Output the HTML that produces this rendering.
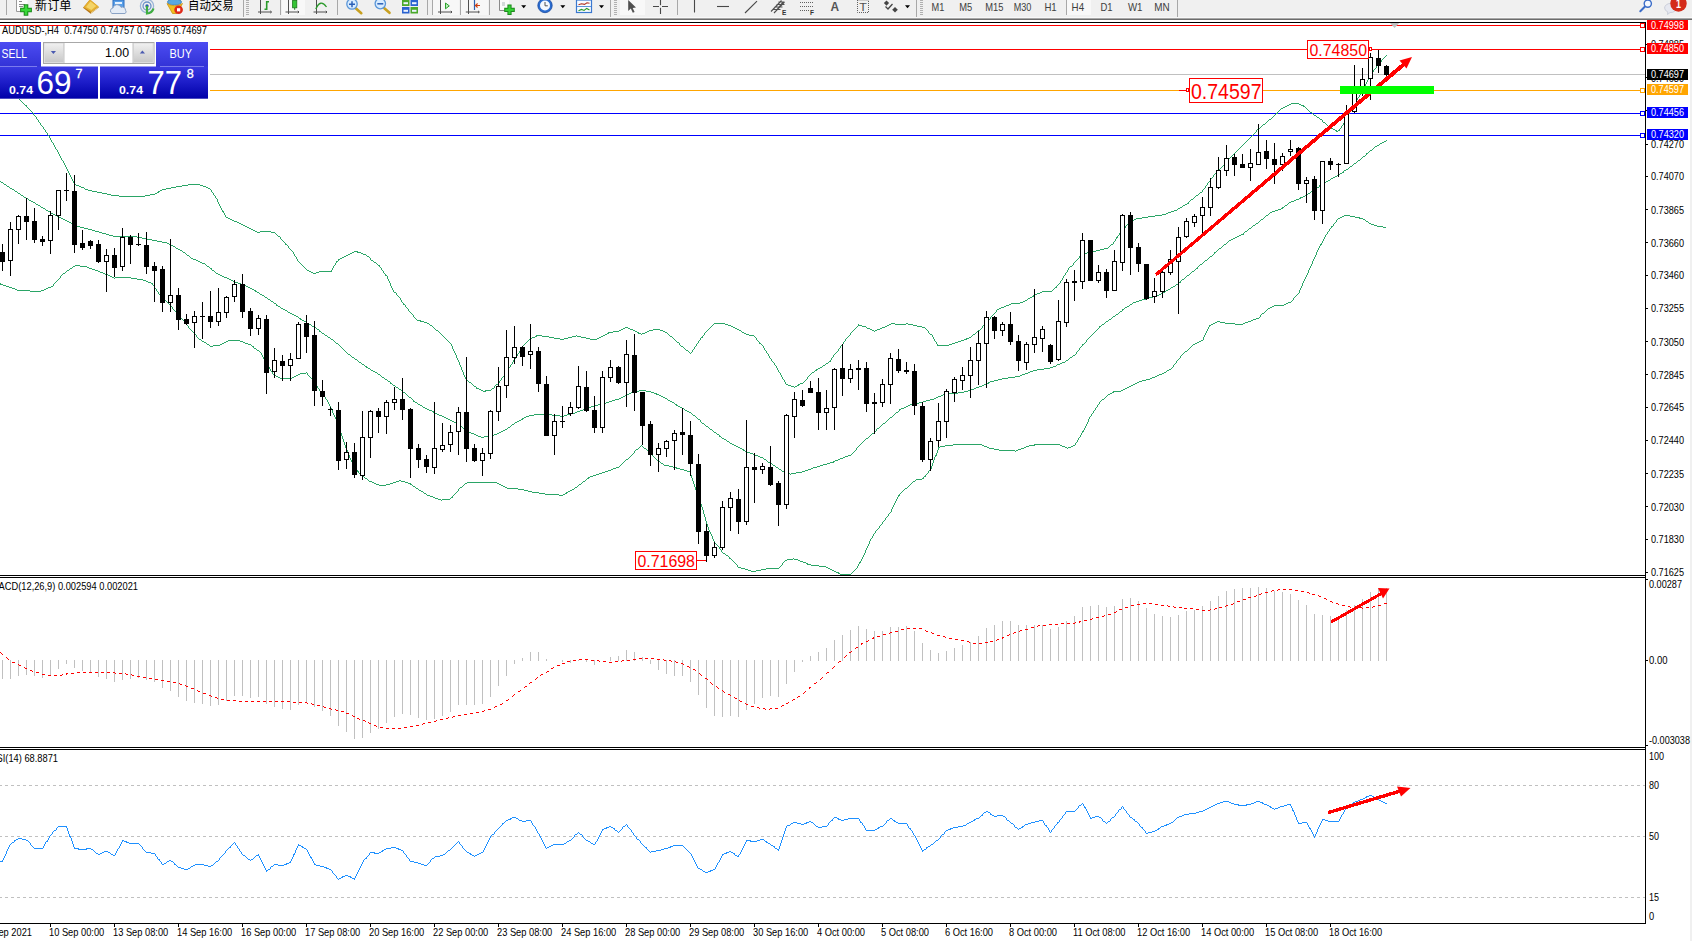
<!DOCTYPE html>
<html><head><meta charset="utf-8"><title>AUDUSD H4</title>
<style>html,body{margin:0;padding:0;background:#fff}body{width:1692px;height:941px;overflow:hidden}svg{display:block}</style>
</head><body>
<svg width="1692" height="941" viewBox="0 0 1692 941" style="font-family:'Liberation Sans','Noto Sans CJK SC',sans-serif">
<rect width="1692" height="941" fill="#fff"/>
<g shape-rendering="crispEdges">
<rect x="0" y="25" width="1645" height="1" fill="#ff0000"/>
<rect x="0" y="49" width="1645" height="1" fill="#ff0000"/>
<rect x="208" y="74" width="1437" height="1" fill="#c0c0c0"/>
<rect x="208" y="90" width="1437" height="1" fill="#ffa500"/>
<rect x="0" y="113" width="1645" height="1" fill="#0000ff"/>
<rect x="0" y="135" width="1645" height="1" fill="#0000ff"/>
</g>
<path d="M15 95.5h1M16 96.5h1M17 97.5h1M18 98.5h1M19 99.5h1M20 100.5h1M21 101.5h1M22 102.5h1M23 103.5h1M24 104.5h1M25 105.5h1M26.5 105v2M27 107.5h1M28 108.5h1M29 109.5h1M30 110.5h1M31 111.5h1M32 112.5h1M33.5 113v2M34 115.5h1M35 116.5h1M36.5 117v2M37 119.5h1M38.5 120v2M39 122.5h1M40.5 123v2M41 125.5h1M42 126.5h1M43.5 127v2M44 129.5h1M45.5 130v2M46 132.5h1M47.5 133v2M48 135.5h1M49.5 136v2M50.5 138v2M51.5 140v2M52 142.5h1M53.5 143v2M54.5 145v2M55.5 147v2M56 149.5h1M57.5 150v2M58.5 152v2M59.5 154v2M60.5 156v2M61.5 158v2M62 160.5h1M63.5 161v2M64.5 163v2M65.5 165v2M66.5 167v2M67.5 169v2M68.5 171v2M69.5 173v2M70.5 175v2M71.5 177v2M72.5 179v2M73.5 181v2M74.5 183v2M75 184.5h1M76 185.5h3M79 186.5h2M81 187.5h3M84 188.5h1M85 189.5h3M88 190.5h4M92 191.5h5M97 192.5h5M102 193.5h5M107 194.5h4M111 195.5h8M119 196.5h26M145 195.5h5M150 194.5h5M155 193.5h2M157 192.5h1M158.5 191v2M159 191.5h1M160 190.5h2M162 189.5h4M166 188.5h5M171 187.5h5M176 186.5h6M182 185.5h6M188 184.5h12M200 185.5h3M203 186.5h3M206 187.5h2M208 188.5h2M210 189.5h1M211.5 190v2M212 192.5h1M213.5 193v2M214 195.5h1M215.5 196v2M216 198.5h1M217.5 199v3M218.5 202v2M219.5 204v2M220.5 206v2M221.5 208v2M222.5 210v2M223.5 211v2M224.5 213v2M225.5 215v2M226 217.5h2M228 218.5h2M230 219.5h2M232 220.5h2M234 221.5h3M237 222.5h2M239 223.5h2M241 224.5h2M243 225.5h2M245 226.5h2M247 227.5h2M249 228.5h2M251 229.5h2M253 230.5h2M255 231.5h2M257 232.5h3M260 231.5h11M271 232.5h4M275 233.5h1M276 234.5h1M277 235.5h1M278 236.5h2M280.5 237v2M281 239.5h1M282 240.5h1M283 241.5h1M284 242.5h1M285.5 243v2M286 244.5h1M287 245.5h1M288.5 246v2M289 248.5h1M290 249.5h1M291 250.5h1M292 251.5h1M293.5 252v2M294.5 254v2M295 256.5h1M296.5 257v2M297.5 259v2M298 261.5h1M299 262.5h1M300 263.5h1M301 264.5h1M302 265.5h1M303 266.5h1M304 267.5h1M305 268.5h1M306 269.5h1M307 270.5h2M309 271.5h2M311 272.5h2M313 273.5h3M316 272.5h3M319 271.5h12M331.5 270v2M332.5 268v2M333.5 266v2M334 265.5h1M335.5 263v2M336.5 261v2M337 261.5h1M338.5 259v2M339 259.5h1M340 258.5h2M342 257.5h2M344 256.5h2M346 255.5h2M348 254.5h2M350 253.5h2M352 252.5h2M354 251.5h3M357.5 251v2M358 252.5h3M361 253.5h2M363 254.5h3M366 255.5h1M367 256.5h2M369 257.5h1M370.5 258v2M371 260.5h2M373 261.5h1M374 262.5h2M376 263.5h1M377 264.5h1M378 265.5h1M379.5 265v2M380 267.5h1M381.5 268v2M382 270.5h1M383.5 271v2M384 273.5h1M385.5 274v2M386 275.5h1M387.5 276v3M388.5 279v2M389.5 281v2M390.5 283v3M391.5 286v2M392.5 288v2M393.5 290v2M394 292.5h2M396.5 293v2M397 295.5h1M398 296.5h1M399 297.5h1M400.5 298v2M401.5 300v2M402 302.5h1M403.5 303v2M404 304.5h1M405.5 305v2M406 307.5h1M407 308.5h1M408.5 309v2M409 311.5h1M410 312.5h1M411 313.5h1M412 314.5h1M413.5 315v2M414 317.5h1M415 318.5h1M416 319.5h1M417 320.5h3M420.5 320v2M421 321.5h3M424 322.5h3M427 323.5h2M429 324.5h1M430 325.5h2M432 326.5h1M433 327.5h1M434 328.5h1M435 329.5h1M436 330.5h2M438 331.5h1M439 332.5h1M440 333.5h1M441 334.5h1M442 335.5h1M443 336.5h1M444 337.5h1M445 338.5h1M446 339.5h1M447 340.5h1M448 341.5h1M449 342.5h1M450 343.5h1M451.5 344v2M452.5 346v3M453.5 349v2M454.5 351v2M455.5 353v2M456.5 355v3M457.5 358v2M458.5 360v2M459.5 362v3M460.5 365v2M461.5 367v3M462.5 370v2M463.5 372v3M464.5 375v2M465.5 377v2M466 379.5h1M467 380.5h1M468 381.5h1M469 382.5h2M471 383.5h1M472 384.5h1M473 385.5h1M474 386.5h2M476.5 387v2M477 388.5h2M479 389.5h2M481 390.5h2M483 391.5h2M485.5 390v2M486 390.5h5M491 389.5h1M492 388.5h2M494.5 386v2M495 385.5h1M496 384.5h2M498 383.5h1M499.5 381v2M500 380.5h1M501.5 378v2M502 377.5h1M503 376.5h1M504.5 374v2M505 373.5h1M506.5 371v2M507 370.5h1M508.5 368v2M509 367.5h1M510.5 365v2M511 364.5h1M512.5 362v2M513.5 360v2M514 359.5h1M515.5 357v2M516.5 355v2M517.5 354v2M518 353.5h1M519.5 351v2M520.5 349v2M521 348.5h1M522.5 346v2M523 345.5h1M524 344.5h1M525 343.5h1M526 342.5h1M527 341.5h1M528 340.5h1M529 339.5h1M530 338.5h2M532 337.5h3M535 336.5h1M536.5 335v2M537 335.5h5M542 336.5h7M549 337.5h5M554 338.5h6M560 339.5h4M564 338.5h4M568 337.5h4M572 336.5h4M576 335.5h1M577 336.5h4M581 337.5h5M586 338.5h4M590 339.5h7M597 338.5h2M599 337.5h2M601 336.5h2M603 335.5h2M605 334.5h2M607 333.5h1M608.5 332v2M609 332.5h4M613 331.5h6M619 330.5h2M621 329.5h2M623 328.5h2M625 327.5h3M628 328.5h2M630 329.5h3M633 330.5h2M635 331.5h2M637 332.5h1M638.5 332v2M639 333.5h2M641 334.5h1M642 333.5h3M645 332.5h2M647 331.5h2M649 330.5h4M653 329.5h7M660 330.5h3M663 331.5h2M665 332.5h2M667 333.5h1M668 334.5h1M669 335.5h1M670 336.5h2M672 337.5h1M673 338.5h1M674 339.5h1M675 340.5h1M676 341.5h1M677 342.5h2M679.5 343v2M680 345.5h1M681 346.5h2M683 347.5h1M684 348.5h1M685 349.5h1M686 350.5h2M688 351.5h1M689 352.5h1M690 353.5h1M691 352.5h1M692.5 350v2M693 349.5h1M694.5 347v2M695 346.5h1M696.5 344v2M697 343.5h1M698.5 341v2M699 340.5h1M700.5 338v2M701 337.5h1M702.5 336v2M703 335.5h1M704.5 333v2M705 332.5h1M706 331.5h1M707 330.5h1M708 329.5h1M709 328.5h1M710 327.5h1M711 326.5h1M712 325.5h1M713 324.5h1M714 323.5h11M725 324.5h3M728 325.5h3M731 326.5h2M733 327.5h2M735 328.5h2M737 329.5h2M739 330.5h2M741 331.5h1M742 332.5h2M744 333.5h2M746 334.5h3M749 335.5h5M754 336.5h1M755 337.5h1M756.5 338v2M757 340.5h1M758 341.5h1M759.5 342v2M760 343.5h1M761 344.5h1M762 345.5h1M763.5 346v2M764.5 348v2M765 350.5h1M766.5 351v2M767 353.5h1M768.5 354v2M769.5 356v2M770 358.5h1M771.5 359v2M772 361.5h1M773 362.5h1M774.5 363v2M775 365.5h1M776.5 366v2M777.5 368v2M778.5 370v2M779 372.5h1M780.5 373v2M781.5 375v2M782.5 377v2M783 379.5h1M784.5 380v2M785.5 382v2M786 384.5h2M788 385.5h3M791 386.5h3M794 387.5h1M795 386.5h2M797 385.5h1M798.5 384v2M799 384.5h1M800 383.5h3M803 382.5h1M804 381.5h1M805 380.5h1M806 379.5h1M807.5 377v2M808 376.5h1M809 375.5h1M810 374.5h1M811 373.5h1M812 372.5h2M814 371.5h1M815 370.5h1M816.5 369v2M817 369.5h1M818 368.5h2M820 367.5h2M822 366.5h1M823 365.5h2M825 364.5h1M826 363.5h2M828 362.5h1M829 361.5h1M830.5 360v2M831.5 358v2M832 357.5h1M833.5 355v2M834 354.5h1M835 353.5h1M836 352.5h1M837 351.5h1M838.5 349v2M839 348.5h1M840.5 346v2M841 345.5h1M842 344.5h1M843.5 342v2M844 341.5h1M845.5 339v2M846 338.5h1M847 337.5h1M848 336.5h1M849 335.5h1M850.5 333v2M851 332.5h1M852 331.5h1M853 330.5h1M854 329.5h1M855 328.5h1M856 327.5h1M857 326.5h1M858.5 324v2M859 325.5h3M862 326.5h4M866 327.5h1M867 328.5h3M870 329.5h2M872 330.5h2M874 331.5h1M875 330.5h2M877 329.5h3M880 328.5h2M882 327.5h3M885 326.5h2M887 325.5h2M889 324.5h2M891 323.5h4M895 324.5h11M906 323.5h2M908 324.5h5M913 325.5h4M917 326.5h5M922 327.5h3M925 328.5h1M926 329.5h1M927 330.5h1M928.5 331v2M929 333.5h1M930 334.5h2M932.5 335v2M933.5 337v2M934.5 339v2M935 341.5h1M936.5 342v2M937.5 344v2M938 345.5h11M949 344.5h3M952 343.5h3M955 342.5h3M958 341.5h3M961 340.5h3M964 339.5h2M966.5 338v2M967 338.5h2M969 337.5h2M971 336.5h1M972 335.5h1M973 334.5h2M975 333.5h1M976 332.5h1M977 331.5h1M978 330.5h2M980 329.5h1M981 328.5h1M982.5 326v2M983 325.5h1M984 324.5h1M985 323.5h1M986 322.5h1M987 321.5h1M988 320.5h1M989 319.5h1M990.5 317v2M991 316.5h1M992 315.5h1M993 314.5h1M994 313.5h1M995 312.5h1M996.5 310v2M997 309.5h2M999 308.5h2M1001 307.5h3M1004 306.5h2M1006 305.5h3M1009 304.5h2M1011 303.5h9M1020 302.5h3M1023 301.5h2M1025 300.5h2M1027 299.5h1M1028 298.5h2M1030 297.5h2M1032 296.5h1M1033.5 295v2M1034 295.5h1M1035 294.5h2M1037 293.5h3M1040 292.5h2M1042 291.5h10M1052 290.5h1M1053 289.5h1M1054 288.5h1M1055 287.5h1M1056.5 286v2M1057 285.5h1M1058 284.5h1M1059 283.5h1M1060.5 281v2M1061 280.5h1M1062.5 278v2M1063.5 276v2M1064 275.5h1M1065.5 273v2M1066 272.5h1M1067.5 270v2M1068.5 268v2M1069 267.5h1M1070 266.5h2M1072 265.5h1M1073.5 263v2M1074 262.5h1M1075 261.5h1M1076 260.5h1M1077 259.5h1M1078 258.5h1M1079.5 256v2M1080 256.5h1M1081 255.5h2M1083 254.5h2M1085 253.5h2M1087 252.5h4M1091 251.5h5M1096 250.5h4M1100 249.5h4M1104 248.5h4M1108 247.5h1M1109 246.5h1M1110 245.5h1M1111 244.5h2M1113.5 242v2M1114 241.5h1M1115.5 239v2M1116.5 237v2M1117.5 236v2M1118 235.5h1M1119.5 233v2M1120.5 231v2M1121 230.5h1M1122 229.5h1M1123 228.5h2M1125.5 226v2M1126 225.5h1M1127 224.5h1M1128 223.5h2M1130 222.5h1M1131 221.5h2M1133 220.5h1M1134 219.5h2M1136 218.5h6M1142 217.5h6M1148 216.5h7M1155 215.5h7M1162 214.5h4M1166 213.5h2M1168 212.5h3M1171 211.5h3M1174 210.5h3M1177 209.5h1M1178 208.5h2M1180 207.5h2M1182 206.5h1M1183 205.5h2M1185 204.5h2M1187 203.5h1M1188.5 202v2M1189 201.5h1M1190 200.5h1M1191 199.5h2M1193 198.5h1M1194 197.5h1M1195 196.5h1M1196 195.5h2M1198 194.5h1M1199 193.5h1M1200 192.5h2M1202.5 190v2M1203 189.5h1M1204 188.5h1M1205.5 186v2M1206 185.5h1M1207.5 183v2M1208 182.5h1M1209 181.5h1M1210.5 179v2M1211 178.5h1M1212 177.5h1M1213.5 175v2M1214 174.5h1M1215 173.5h1M1216 172.5h1M1217 171.5h1M1218 170.5h1M1219 169.5h1M1220 168.5h1M1221 167.5h1M1222 166.5h1M1223 165.5h1M1224 164.5h1M1225 163.5h1M1226 162.5h1M1227.5 160v2M1228 159.5h1M1229 158.5h1M1230 157.5h1M1231 156.5h1M1232 155.5h1M1233 154.5h1M1234 153.5h1M1235 152.5h1M1236 151.5h1M1237 150.5h1M1238 149.5h1M1239 148.5h1M1240 147.5h1M1241 146.5h1M1242 145.5h1M1243 144.5h1M1244 143.5h1M1245 142.5h1M1246 141.5h1M1247 140.5h1M1248 139.5h1M1249 138.5h1M1250 137.5h1M1251 136.5h1M1252 135.5h1M1253 134.5h1M1254 133.5h1M1255 132.5h1M1256.5 130v2M1257 129.5h2M1259 128.5h1M1260 127.5h1M1261 126.5h1M1262 125.5h1M1263 124.5h2M1265 123.5h1M1266 122.5h1M1267 121.5h1M1268 120.5h1M1269 119.5h2M1271 118.5h1M1272 117.5h1M1273 116.5h1M1274 115.5h1M1275 114.5h1M1276 113.5h1M1277.5 112v2M1278 111.5h1M1279 110.5h1M1280 109.5h1M1281 108.5h2M1283 107.5h2M1285 106.5h2M1287 105.5h2M1289 104.5h2M1291 103.5h8M1299 104.5h2M1301 105.5h2M1303.5 105v2M1304 106.5h1M1305 107.5h1M1306 108.5h1M1307 109.5h1M1308 110.5h1M1309 111.5h1M1310 112.5h2M1312 113.5h1M1313 114.5h1M1314 115.5h2M1316 116.5h1M1317 117.5h2M1319 118.5h1M1320 119.5h2M1322.5 120v2M1323 122.5h2M1325 123.5h1M1326 124.5h1M1327 125.5h1M1328 126.5h2M1330 127.5h1M1331 128.5h2M1333 129.5h2M1335 130.5h1M1336.5 130v2M1337 131.5h1M1338 130.5h1M1339.5 129v2M1340 128.5h1M1341.5 126v2M1342 125.5h1M1343.5 123v2M1344 122.5h1M1345.5 119v3M1346.5 117v2M1347.5 116v2M1348.5 114v2M1349.5 112v2M1350.5 110v2M1351.5 108v2M1352.5 106v2M1353.5 104v2M1354 103.5h1M1355.5 101v2M1356 100.5h1M1357.5 98v2M1358 97.5h1M1359.5 95v2M1360.5 93v2M1361 92.5h1M1362.5 90v2M1363.5 88v2M1364.5 86v2M1365.5 84v2M1366.5 82v2M1367.5 80v2M1368.5 78v2M1369.5 77v2M1370 76.5h1M1371.5 74v2M1372.5 72v2M1373.5 70v2M1374 69.5h1M1375 68.5h1M1376.5 66v2M1377 65.5h1M1378 64.5h1M1379 63.5h1M1380 62.5h1M1381.5 60v2M1382 59.5h1M1383 58.5h1M1384 57.5h1M1385 56.5h1M1386 55.5h1" fill="none" stroke="#2aa566" stroke-width="1" shape-rendering="crispEdges"/>
<path d="M0 181.5h1M1 182.5h2M3 183.5h1M4 184.5h2M6 185.5h1M7 186.5h2M9 187.5h1M10 188.5h2M12 189.5h2M14 190.5h1M15 191.5h2M17 192.5h1M18 193.5h2M20 194.5h1M21 195.5h2M23 196.5h1M24 197.5h2M26 198.5h2M28 199.5h1M29 200.5h2M31 201.5h2M33 202.5h2M35 203.5h1M36 204.5h2M38 205.5h2M40 206.5h1M41 207.5h2M43 208.5h2M45 209.5h1M46 210.5h2M48 211.5h2M50 212.5h1M51 213.5h2M53 214.5h2M55 215.5h2M57 216.5h2M59 217.5h2M61 218.5h2M63 219.5h2M65 220.5h2M67 221.5h2M69 222.5h2M71 223.5h1M72 224.5h2M74 225.5h2M76 226.5h4M80 227.5h4M84 228.5h4M88 229.5h4M92 230.5h3M95 231.5h4M99 232.5h3M102 233.5h4M106 234.5h3M109 235.5h4M113 236.5h24M137 237.5h5M142 238.5h5M147 239.5h5M152 240.5h5M157 241.5h5M162 242.5h5M167 243.5h2M169 244.5h2M171 245.5h2M173 246.5h2M175 247.5h1M176 248.5h2M178 249.5h2M180 250.5h2M182 251.5h1M183 252.5h2M185 253.5h1M186 254.5h1M187 255.5h2M189 256.5h1M190 257.5h1M191 258.5h2M193 259.5h3M196 260.5h2M198 261.5h2M200 262.5h2M202 263.5h3M205 264.5h1M206 265.5h1M207 266.5h2M209 267.5h1M210 268.5h1M211.5 268v2M212 270.5h2M214 271.5h1M215 272.5h1M216 273.5h2M218 274.5h2M220 275.5h2M222 276.5h2M224 277.5h3M227 278.5h2M229 279.5h2M231 280.5h2M233 281.5h2M235 282.5h3M238 283.5h3M241 284.5h2M243 285.5h3M246 286.5h2M248 287.5h2M250 288.5h2M252 289.5h2M254 290.5h1M255.5 290v2M256 291.5h1M257 292.5h2M259 293.5h1M260 294.5h2M262 295.5h2M264 296.5h1M265 297.5h2M267 298.5h1M268 299.5h2M270 300.5h1M271 301.5h2M273 302.5h1M274 303.5h2M276.5 304v2M277 305.5h1M278 306.5h2M280 307.5h1M281 308.5h2M283 309.5h2M285 310.5h2M287 311.5h1M288 312.5h2M290 313.5h2M292 314.5h2M294 315.5h2M296 316.5h2M298 317.5h1M299 318.5h1M300.5 318v2M301 319.5h1M302 320.5h2M304 321.5h2M306 322.5h1M307 323.5h2M309 324.5h2M311 325.5h1M312 326.5h2M314 327.5h2M316 328.5h1M317 329.5h2M319.5 330v2M320 331.5h1M321 332.5h1M322 333.5h2M324 334.5h1M325 335.5h2M327 336.5h1M328 337.5h2M330 338.5h1M331 339.5h2M333 340.5h1M334 341.5h1M335 342.5h1M336 343.5h2M338 344.5h1M339 345.5h1M340 346.5h1M341 347.5h1M342 348.5h1M343 349.5h1M344 350.5h1M345 351.5h1M346 352.5h1M347 353.5h1M348 354.5h2M350 355.5h1M351 356.5h1M352 357.5h2M354 358.5h1M355 359.5h2M357 360.5h1M358 361.5h1M359 362.5h2M361 363.5h1M362 364.5h2M364 365.5h1M365 366.5h1M366.5 366v2M367 367.5h1M368 368.5h2M370 369.5h1M371 370.5h2M373 371.5h2M375 372.5h2M377 373.5h1M378 374.5h2M380 375.5h1M381 376.5h1M382 377.5h2M384 378.5h1M385 379.5h2M387 380.5h1M388 381.5h2M390.5 382v2M391 383.5h1M392 384.5h1M393 385.5h2M395 386.5h1M396 387.5h2M398 388.5h1M399 389.5h2M401 390.5h1M402 391.5h1M403 392.5h2M405 393.5h1M406 394.5h1M407 395.5h1M408 396.5h1M409 397.5h2M411 398.5h1M412 399.5h1M413.5 400v2M414 401.5h1M415 402.5h2M417 403.5h1M418 404.5h2M420 405.5h2M422 406.5h1M423 407.5h2M425 408.5h2M427 409.5h2M429 410.5h3M432 411.5h1M433.5 411v2M434 412.5h1M435 413.5h2M437 414.5h2M439 415.5h3M442 416.5h2M444 417.5h2M446 418.5h2M448 419.5h2M450 420.5h2M452 421.5h2M454 422.5h2M456 423.5h1M457 424.5h2M459 425.5h1M460 426.5h2M462 427.5h1M463 428.5h2M465 429.5h1M466 430.5h2M468 431.5h1M469 432.5h2M471 433.5h3M474 434.5h2M476 435.5h2M478 436.5h3M481 437.5h3M484 436.5h7M491 435.5h3M494 434.5h3M497 433.5h2M499 432.5h2M501 431.5h2M503 430.5h2M505 429.5h2M507 428.5h1M508 427.5h2M510 426.5h1M511 425.5h1M512 424.5h2M514 423.5h1M515 422.5h2M517 421.5h2M519 420.5h2M521 419.5h1M522.5 418v2M523 418.5h1M524 417.5h2M526 416.5h3M529 415.5h5M534 414.5h18M552 415.5h8M560 416.5h4M564 415.5h3M567 414.5h4M571 413.5h4M575 412.5h2M577 411.5h3M580 410.5h3M583 409.5h3M586 408.5h2M588.5 407v2M589 407.5h2M591 406.5h4M595 405.5h3M598 404.5h4M602 403.5h4M606 402.5h3M609 401.5h3M612 400.5h3M615 399.5h4M619 398.5h2M621 397.5h2M623 396.5h2M625 395.5h2M627 394.5h2M629 393.5h2M631 392.5h3M634.5 391v2M635 391.5h4M639 390.5h7M646 391.5h5M651 392.5h3M654 393.5h2M656.5 393v2M657 394.5h2M659 395.5h2M661 396.5h2M663 397.5h2M665 398.5h2M667 399.5h1M668 400.5h2M670 401.5h2M672 402.5h2M674 403.5h1M675 404.5h1M676.5 404v2M677 405.5h1M678 406.5h2M680 407.5h2M682 408.5h2M684 409.5h1M685 410.5h2M687 411.5h2M689 412.5h2M691 413.5h1M692 414.5h1M693 415.5h2M695 416.5h1M696 417.5h1M697 418.5h1M698 419.5h2M700.5 420v2M701 422.5h1M702 423.5h2M704 424.5h1M705 425.5h1M706 426.5h2M708 427.5h1M709 428.5h1M710 429.5h2M712 430.5h1M713 431.5h1M714 432.5h2M716 433.5h1M717 434.5h2M719.5 435v2M720 436.5h1M721 437.5h1M722 438.5h2M724 439.5h2M726 440.5h1M727 441.5h2M729 442.5h1M730 443.5h2M732 444.5h2M734 445.5h2M736 446.5h2M738 447.5h2M740 448.5h2M742 449.5h1M743.5 449v2M744 450.5h1M745 451.5h2M747 452.5h3M750 453.5h3M753 454.5h2M755 455.5h3M758 456.5h2M760 457.5h3M763 458.5h1M764 459.5h2M766 460.5h1M767 461.5h1M768 462.5h2M770 463.5h2M772 464.5h1M773 465.5h2M775 466.5h1M776 467.5h2M778 468.5h1M779 469.5h2M781 470.5h1M782 471.5h3M785 472.5h3M788 473.5h2M790 474.5h1M791 473.5h5M796 472.5h6M802 471.5h3M805 470.5h3M808 469.5h3M811 468.5h2M813 467.5h4M817 466.5h3M820 465.5h3M823 464.5h4M827 463.5h3M830 462.5h3M833.5 461v2M834 461.5h1M835 460.5h3M838 459.5h2M840 458.5h3M843 457.5h2M845 456.5h3M848 455.5h3M851 454.5h1M852 453.5h1M853 452.5h1M854 451.5h1M855 450.5h1M856.5 448v2M857 447.5h1M858 446.5h1M859 445.5h1M860 444.5h1M861 443.5h1M862 442.5h1M863 441.5h1M864 440.5h1M865 439.5h1M866 438.5h2M868 437.5h1M869 436.5h1M870 435.5h1M871 434.5h1M872 433.5h2M874 432.5h1M875 431.5h1M876.5 429v2M877 428.5h2M879 427.5h1M880 426.5h1M881 425.5h1M882 424.5h1M883 423.5h2M885 422.5h1M886 421.5h1M887 420.5h1M888 419.5h1M889 418.5h1M890 417.5h2M892 416.5h1M893 415.5h1M894 414.5h1M895 413.5h1M896 412.5h2M898 411.5h1M899.5 409v2M900 409.5h1M901 408.5h3M904 407.5h2M906 406.5h2M908 405.5h2M910 404.5h4M914 403.5h5M919 402.5h4M923 401.5h3M926 400.5h4M930 399.5h4M934 398.5h2M936 397.5h2M938 396.5h3M941 395.5h2M943 394.5h2M945.5 393v2M946 393.5h12M958 392.5h6M964 391.5h4M968 390.5h3M971 389.5h3M974 388.5h2M976 387.5h3M979 386.5h3M982 385.5h2M984 384.5h2M986 383.5h2M988.5 382v2M989 382.5h1M990 381.5h4M994 380.5h4M998 379.5h4M1002 378.5h6M1008 377.5h7M1015 376.5h5M1020 375.5h2M1022 374.5h3M1025 373.5h3M1028 372.5h2M1030 371.5h3M1033 370.5h4M1037 369.5h7M1044 368.5h6M1050 367.5h3M1053 366.5h3M1056 365.5h1M1057 364.5h3M1060 363.5h2M1062 362.5h3M1065 361.5h1M1066 360.5h2M1068 359.5h1M1069 358.5h1M1070 357.5h2M1072 356.5h1M1073 355.5h2M1075 354.5h1M1076.5 352v2M1077 351.5h1M1078 350.5h1M1079.5 348v2M1080 347.5h1M1081 346.5h1M1082.5 344v2M1083 344.5h1M1084 343.5h1M1085 342.5h1M1086.5 340v2M1087 339.5h1M1088 338.5h1M1089 337.5h1M1090 336.5h1M1091 335.5h1M1092 334.5h1M1093 333.5h1M1094 332.5h1M1095 331.5h1M1096 330.5h1M1097 329.5h1M1098 328.5h1M1099.5 326v2M1100 326.5h1M1101 325.5h1M1102 324.5h2M1104 323.5h1M1105 322.5h1M1106 321.5h2M1108 320.5h1M1109 319.5h2M1111 318.5h1M1112 317.5h1M1113 316.5h2M1115 315.5h1M1116 314.5h2M1118 313.5h1M1119 312.5h1M1120 311.5h2M1122.5 309v2M1123 309.5h1M1124 308.5h1M1125 307.5h2M1127 306.5h2M1129 305.5h1M1130 304.5h2M1132 303.5h1M1133 302.5h3M1136 301.5h3M1139 300.5h3M1142 299.5h3M1145.5 298v2M1146 298.5h3M1149 297.5h4M1153 296.5h4M1157 295.5h2M1159 294.5h2M1161 293.5h2M1163 292.5h2M1165 291.5h1M1166 290.5h2M1168 289.5h2M1170 288.5h1M1171 287.5h2M1173 286.5h2M1175 285.5h1M1176 284.5h2M1178 283.5h1M1179 282.5h1M1180.5 281v2M1181 280.5h1M1182 279.5h2M1184 278.5h1M1185 277.5h1M1186 276.5h1M1187 275.5h2M1189 274.5h1M1190 273.5h1M1191 272.5h1M1192 271.5h2M1194 270.5h1M1195 269.5h1M1196 268.5h1M1197.5 267v2M1198 266.5h1M1199 265.5h1M1200 264.5h2M1202 263.5h1M1203 262.5h1M1204 261.5h1M1205 260.5h2M1207 259.5h1M1208 258.5h1M1209 257.5h1M1210 256.5h2M1212 255.5h1M1213 254.5h1M1214.5 252v2M1215 252.5h1M1216 251.5h1M1217 250.5h1M1218 249.5h1M1219 248.5h2M1221 247.5h1M1222 246.5h1M1223 245.5h1M1224 244.5h2M1226 243.5h1M1227 242.5h1M1228 241.5h1M1229 240.5h2M1231 239.5h2M1233 238.5h2M1235 237.5h2M1237 236.5h2M1239 235.5h2M1241 234.5h2M1243.5 233v2M1244 232.5h1M1245 231.5h2M1247 230.5h1M1248 229.5h1M1249 228.5h2M1251 227.5h1M1252 226.5h1M1253 225.5h2M1255 224.5h1M1256 223.5h2M1258 222.5h1M1259 221.5h1M1260 220.5h1M1261 219.5h2M1263 218.5h1M1264 217.5h1M1265 216.5h1M1266 215.5h2M1268 214.5h1M1269 213.5h1M1270 212.5h2M1272 211.5h3M1275 210.5h3M1278 209.5h3M1281 208.5h1M1282.5 207v2M1283 207.5h1M1284 206.5h1M1285 205.5h2M1287 204.5h1M1288 203.5h1M1289 202.5h2M1291 201.5h3M1294 200.5h2M1296 199.5h3M1299 198.5h1M1300.5 197v2M1301 197.5h2M1303 196.5h2M1305 195.5h2M1307 194.5h1M1308 193.5h2M1310 192.5h1M1311 191.5h2M1313 190.5h1M1314 189.5h2M1316 188.5h1M1317 187.5h2M1319.5 185v2M1320 185.5h1M1321 184.5h2M1323 183.5h1M1324 182.5h2M1326 181.5h2M1328 180.5h2M1330 179.5h1M1331 178.5h2M1333 177.5h2M1335 176.5h2M1337 175.5h1M1338 174.5h2M1340 173.5h2M1342 172.5h1M1343.5 171v2M1344 170.5h2M1346 169.5h2M1348 168.5h1M1349 167.5h1M1350 166.5h2M1352 165.5h1M1353 164.5h1M1354 163.5h2M1356 162.5h1M1357 161.5h1M1358 160.5h2M1360 159.5h1M1361 158.5h1M1362 157.5h1M1363 156.5h2M1365 155.5h1M1366.5 153v2M1367 153.5h1M1368 152.5h1M1369 151.5h1M1370 150.5h2M1372 149.5h1M1373 148.5h1M1374 147.5h1M1375 146.5h2M1377 145.5h2M1379 144.5h1M1380 143.5h2M1382 142.5h2M1384 141.5h2M1386 140.5h1" fill="none" stroke="#2aa566" stroke-width="1" shape-rendering="crispEdges"/>
<path d="M0.5 283v2M1 284.5h2M3 285.5h3M6 286.5h3M9 287.5h3M12 288.5h3M15 289.5h2M17 290.5h13M30 291.5h11M41 290.5h3M44 289.5h2M46 288.5h2M48 287.5h3M51 286.5h2M53.5 284v2M54 283.5h1M55 282.5h1M56 281.5h1M57 280.5h1M58 279.5h1M59 278.5h1M60.5 276v2M61 275.5h1M62 274.5h1M63 273.5h2M65 272.5h1M66 271.5h1M67 270.5h2M69 269.5h1M70 268.5h2M72 267.5h1M73 266.5h2M75 265.5h5M80 266.5h7M87 267.5h2M89 268.5h3M92 269.5h3M95 270.5h3M98 271.5h2M100 272.5h3M103 273.5h2M105 274.5h3M108 275.5h2M110 276.5h2M112 277.5h2M114 278.5h1M115 277.5h16M131 278.5h6M137 279.5h6M143 280.5h3M146 281.5h2M148 282.5h3M151 283.5h1M152.5 283v2M153 285.5h1M154.5 286v2M155 288.5h1M156.5 289v2M157 291.5h1M158.5 292v2M159 294.5h1M160.5 294v2M161 296.5h1M162 297.5h1M163 298.5h1M164 299.5h1M165 300.5h1M166 301.5h1M167 302.5h1M168 303.5h1M169 304.5h1M170 305.5h1M171 306.5h1M172.5 307v2M173 309.5h1M174 310.5h1M175 311.5h1M176.5 312v2M177 313.5h1M178 314.5h1M179 315.5h1M180.5 316v2M181 318.5h1M182 319.5h1M183 320.5h1M184.5 321v2M185 323.5h1M186 324.5h1M187 325.5h1M188.5 326v2M189 328.5h1M190 329.5h1M191 330.5h1M192 331.5h1M193 332.5h1M194 333.5h1M195 334.5h1M196.5 335v2M197 337.5h1M198 338.5h1M199 339.5h2M201 340.5h1M202 341.5h2M204 342.5h2M206 343.5h1M207 344.5h2M209 345.5h1M210 346.5h3M213 345.5h7M220 344.5h2M222 343.5h2M224 342.5h2M226 341.5h2M228 340.5h12M240 341.5h3M243 342.5h2M245 343.5h3M248 344.5h3M251 345.5h1M252 346.5h1M253.5 346v2M254 348.5h2M256 349.5h1M257 350.5h2M259 351.5h1M260 352.5h1M261.5 353v2M262.5 355v2M263.5 357v2M264.5 359v2M265 361.5h1M266 362.5h1M267.5 363v2M268.5 365v2M269.5 367v2M270.5 369v2M271 371.5h1M272.5 372v2M273 374.5h1M274 375.5h2M276 376.5h2M278 377.5h2M280 378.5h12M292 377.5h2M294 376.5h2M296 375.5h2M298 374.5h2M300 373.5h6M306 372.5h1M307.5 373v2M308 375.5h1M309 376.5h1M310 377.5h1M311 378.5h1M312.5 379v2M313 381.5h1M314 382.5h1M315.5 383v2M316 385.5h1M317.5 386v2M318 388.5h1M319.5 389v2M320 391.5h1M321.5 392v2M322 394.5h1M323.5 394v2M324 396.5h1M325.5 397v2M326 399.5h1M327.5 400v2M328.5 402v2M329.5 404v2M330.5 406v2M331.5 408v2M332.5 410v3M333.5 413v2M334.5 415v2M335.5 417v2M336.5 419v3M337.5 422v3M338.5 425v3M339.5 428v2M340.5 430v3M341.5 433v3M342.5 436v3M343.5 439v3M344.5 442v3M345.5 445v3M346.5 448v2M347.5 450v2M348.5 452v3M349.5 455v3M350.5 458v2M351.5 460v2M352.5 462v2M353 464.5h1M354.5 465v2M355.5 467v2M356 469.5h1M357.5 470v2M358.5 471v2M359 473.5h1M360 474.5h1M361 475.5h1M362 476.5h2M364 477.5h1M365 478.5h2M367 479.5h1M368 480.5h1M369 481.5h3M372 482.5h2M374 483.5h2M376 484.5h3M379 485.5h7M386 484.5h4M390 483.5h3M393 482.5h3M396 481.5h3M399 480.5h2M401 481.5h4M405 482.5h3M408 483.5h2M410.5 483v2M411 484.5h1M412 485.5h1M413 486.5h2M415 487.5h1M416 488.5h2M418 489.5h1M419 490.5h2M421 491.5h2M423 492.5h1M424 493.5h2M426 494.5h1M427 495.5h3M430 496.5h3M433 497.5h2M435 498.5h3M438 499.5h3M441 500.5h1M442 499.5h8M450 498.5h1M451 497.5h1M452.5 496v2M453 495.5h1M454 494.5h1M455 493.5h1M456 492.5h1M457 491.5h1M458.5 489v2M459 488.5h1M460 487.5h2M462 486.5h1M463 485.5h1M464 484.5h1M465 483.5h2M467 482.5h30M497 483.5h2M499 484.5h2M501 485.5h2M503 486.5h2M505 487.5h2M507 488.5h11M518 489.5h6M524 490.5h4M528 491.5h4M532 492.5h7M539 493.5h6M545 494.5h14M559 495.5h4M563 494.5h2M565 493.5h1M566.5 492v2M567 492.5h1M568 491.5h2M570 490.5h2M572 489.5h2M574 488.5h1M575 487.5h2M577 486.5h1M578 485.5h1M579 484.5h2M581 483.5h1M582 482.5h1M583 481.5h2M585 480.5h1M586 479.5h1M587 478.5h1M588.5 477v2M589 477.5h1M590 476.5h3M593 475.5h3M596 474.5h3M599 473.5h3M602 472.5h3M605 471.5h3M608 470.5h3M611 469.5h2M613 468.5h3M616 467.5h3M619 466.5h1M620 465.5h1M621 464.5h1M622 463.5h1M623 462.5h1M624 461.5h1M625 460.5h1M626 459.5h2M628 458.5h1M629 457.5h1M630 456.5h1M631 455.5h1M632 454.5h1M633 453.5h1M634.5 451v2M635 450.5h1M636 449.5h2M638 448.5h1M639 447.5h1M640 446.5h1M641 445.5h1M642 446.5h1M643 447.5h1M644 448.5h2M646 449.5h1M647 450.5h1M648 451.5h1M649 452.5h1M650 453.5h1M651 454.5h1M652 455.5h1M653 456.5h1M654 457.5h1M655 458.5h1M656 459.5h1M657 460.5h1M658 461.5h2M660 462.5h1M661 463.5h2M663 464.5h1M664 465.5h5M669 466.5h4M673 467.5h3M676.5 467v2M677 468.5h3M680 469.5h4M684 470.5h3M687 471.5h3M690.5 471v4M691.5 475v3M692.5 478v3M693.5 481v3M694.5 484v3M695.5 487v3M696.5 490v2M697.5 492v3M698.5 495v3M699.5 498v3M700.5 501v3M701.5 504v3M702.5 507v3M703.5 510v4M704.5 514v3M705.5 517v4M706.5 521v3M707.5 524v3M708.5 527v3M709.5 530v2M710.5 532v2M711.5 534v2M712.5 536v3M713.5 539v2M714.5 541v2M715 543.5h1M716 544.5h1M717 545.5h1M718 546.5h1M719.5 547v2M720 549.5h1M721.5 550v2M722 552.5h1M723 553.5h2M725 554.5h1M726 555.5h2M728 556.5h1M729.5 557v2M730 558.5h1M731 559.5h1M732 560.5h1M733 561.5h1M734 562.5h1M735 563.5h1M736 564.5h1M737.5 565v2M738 567.5h3M741 568.5h4M745 569.5h3M748 570.5h3M751 571.5h5M756 570.5h5M761 569.5h5M766 568.5h13M779 567.5h1M780 566.5h1M781 565.5h1M782.5 563v2M783 562.5h1M784 561.5h1M785 560.5h2M787 559.5h6M793 558.5h1M794 559.5h4M798 560.5h2M800 561.5h3M803 562.5h3M806 563.5h1M807.5 563v2M808 564.5h3M811 565.5h8M819 566.5h7M826 567.5h2M828 568.5h2M830 569.5h2M832 570.5h2M834 571.5h2M836 572.5h2M838.5 572v2M839 573.5h1M840 574.5h11M851 573.5h1M852 572.5h1M853 571.5h1M854 570.5h1M855 569.5h1M856 568.5h1M857.5 566v2M858.5 564v2M859.5 562v2M860.5 561v2M861.5 559v2M862.5 557v2M863.5 555v2M864.5 553v2M865.5 550v3M866.5 548v2M867.5 546v2M868.5 544v2M869.5 541v3M870.5 539v2M871 538.5h1M872.5 536v2M873.5 534v2M874 533.5h1M875.5 531v2M876 530.5h1M877 529.5h1M878 528.5h1M879.5 526v2M880 525.5h1M881 524.5h1M882.5 522v2M883 521.5h1M884 520.5h1M885.5 518v2M886 517.5h1M887 516.5h1M888.5 514v2M889 513.5h1M890 512.5h1M891.5 509v3M892.5 507v2M893.5 505v2M894.5 503v2M895.5 501v2M896.5 499v2M897.5 497v2M898.5 495v2M899.5 494v2M900 493.5h1M901 492.5h1M902 491.5h1M903 490.5h1M904 489.5h1M905 488.5h2M907 487.5h1M908 486.5h1M909 485.5h1M910 484.5h1M911 483.5h1M912 482.5h1M913 481.5h2M915 480.5h1M916 479.5h6M922 478.5h1M923.5 477v2M924 476.5h1M925.5 475v2M926 474.5h1M927 473.5h1M928.5 471v2M929 470.5h1M930 469.5h1M931.5 466v3M932.5 463v3M933.5 460v3M934.5 457v3M935.5 455v2M936.5 453v3M937.5 450v3M938.5 447v3M939 447.5h1M940 446.5h5M945 445.5h8M953 444.5h29M982 445.5h2M984 446.5h3M987 447.5h2M989 448.5h5M994 449.5h5M999 450.5h16M1015 451.5h1M1016 450.5h2M1018 449.5h3M1021 448.5h3M1024 447.5h2M1026 446.5h3M1029 445.5h5M1034.5 444v2M1035 444.5h25M1060 445.5h2M1062 446.5h3M1065 447.5h2M1067 448.5h1M1068 447.5h3M1071 446.5h2M1073 445.5h2M1075.5 443v2M1076 442.5h1M1077.5 440v2M1078.5 438v2M1079 437.5h1M1080.5 435v2M1081.5 433v2M1082.5 431v2M1083.5 430v2M1084.5 428v2M1085.5 426v2M1086.5 424v2M1087.5 422v2M1088.5 419v3M1089.5 417v2M1090 416.5h1M1091.5 414v2M1092 413.5h1M1093.5 411v2M1094 410.5h1M1095.5 408v2M1096 407.5h1M1097.5 405v2M1098 404.5h1M1099.5 402v2M1100 401.5h1M1101 400.5h1M1102 399.5h2M1104 398.5h1M1105 397.5h1M1106 396.5h1M1107 395.5h1M1108 394.5h2M1110 393.5h2M1112 392.5h1M1113.5 391v2M1114 391.5h7M1121 390.5h2M1123 389.5h2M1125 388.5h2M1127 387.5h2M1129 386.5h2M1131 385.5h2M1133 384.5h2M1135 383.5h2M1137 382.5h2M1139 381.5h3M1142 380.5h4M1146 379.5h4M1150 378.5h2M1152 377.5h3M1155 376.5h2M1157 375.5h2M1159 374.5h3M1162 373.5h2M1164 372.5h2M1166 371.5h1M1167 370.5h2M1169 369.5h2M1171 368.5h1M1172 367.5h1M1173.5 365v2M1174 364.5h1M1175 363.5h1M1176.5 361v2M1177 360.5h1M1178 359.5h1M1179 358.5h1M1180.5 356v2M1181 355.5h1M1182 354.5h1M1183 353.5h1M1184 352.5h1M1185 351.5h2M1187 350.5h1M1188 349.5h1M1189 348.5h1M1190 347.5h1M1191 346.5h1M1192 345.5h1M1193 344.5h2M1195 343.5h2M1197 342.5h2M1199 341.5h2M1201 340.5h2M1203.5 337v3M1204.5 335v2M1205.5 333v2M1206.5 331v2M1207.5 329v2M1208.5 327v2M1209.5 325v2M1210 325.5h1M1211 324.5h2M1213 323.5h2M1215 322.5h2M1217 321.5h3M1220 322.5h5M1225 323.5h10M1235 324.5h8M1243 323.5h2M1245 322.5h3M1248 321.5h3M1251 320.5h2M1253 319.5h3M1256 318.5h3M1259 317.5h1M1260.5 315v2M1261 314.5h1M1262 313.5h2M1264 312.5h1M1265 311.5h1M1266 310.5h1M1267 309.5h1M1268 308.5h2M1270 307.5h2M1272 306.5h2M1274 305.5h10M1284 304.5h2M1286 303.5h2M1288 302.5h3M1291 301.5h1M1292 300.5h1M1293.5 298v2M1294 297.5h1M1295 296.5h1M1296 295.5h1M1297 294.5h1M1298 293.5h1M1299.5 290v3M1300.5 288v2M1301.5 286v2M1302.5 283v3M1303.5 281v2M1304.5 279v2M1305.5 277v2M1306.5 275v2M1307.5 273v2M1308.5 270v3M1309.5 268v2M1310.5 266v2M1311.5 264v2M1312.5 261v3M1313.5 259v2M1314.5 257v2M1315.5 255v2M1316.5 252v3M1317.5 250v2M1318.5 248v2M1319.5 246v2M1320.5 244v2M1321.5 243v2M1322.5 241v2M1323.5 239v2M1324.5 237v2M1325.5 235v2M1326 234.5h1M1327.5 232v2M1328 231.5h1M1329.5 229v2M1330 228.5h1M1331.5 226v2M1332 226.5h1M1333.5 224v2M1334 223.5h1M1335 222.5h1M1336.5 220v2M1337 219.5h1M1338 218.5h2M1340 217.5h2M1342 216.5h2M1344 215.5h6M1350 216.5h5M1355 217.5h4M1359.5 217v2M1360 218.5h3M1363 219.5h2M1365 220.5h1M1366 221.5h2M1368 222.5h1M1369 223.5h2M1371 224.5h3M1374 225.5h3M1377 226.5h6M1383 227.5h3" fill="none" stroke="#2aa566" stroke-width="1" shape-rendering="crispEdges"/>
<g shape-rendering="crispEdges">
<rect x="2" y="244" width="1" height="27" fill="#000"/>
<rect x="0" y="252" width="5" height="10" fill="#000"/>
<rect x="10" y="222" width="1" height="54" fill="#000"/>
<rect x="8" y="229" width="5" height="32" fill="#000"/>
<rect x="9" y="230" width="3" height="30" fill="#fff"/>
<rect x="18" y="215" width="1" height="29" fill="#000"/>
<rect x="16" y="216" width="5" height="14" fill="#000"/>
<rect x="17" y="217" width="3" height="12" fill="#fff"/>
<rect x="26" y="198" width="1" height="42" fill="#000"/>
<rect x="24" y="216" width="5" height="6" fill="#000"/>
<rect x="34" y="208" width="1" height="35" fill="#000"/>
<rect x="32" y="221" width="5" height="19" fill="#000"/>
<rect x="42" y="236" width="1" height="10" fill="#000"/>
<rect x="40" y="239" width="5" height="3" fill="#000"/>
<rect x="50" y="211" width="1" height="43" fill="#000"/>
<rect x="48" y="215" width="5" height="26" fill="#000"/>
<rect x="49" y="216" width="3" height="24" fill="#fff"/>
<rect x="58" y="190" width="1" height="40" fill="#000"/>
<rect x="56" y="190" width="5" height="26" fill="#000"/>
<rect x="57" y="191" width="3" height="24" fill="#fff"/>
<rect x="66" y="173" width="1" height="28" fill="#000"/>
<rect x="64" y="190" width="5" height="1" fill="#000"/>
<rect x="74" y="175" width="1" height="78" fill="#000"/>
<rect x="72" y="191" width="5" height="54" fill="#000"/>
<rect x="82" y="230" width="1" height="20" fill="#000"/>
<rect x="80" y="243" width="5" height="5" fill="#000"/>
<rect x="90" y="240" width="1" height="9" fill="#000"/>
<rect x="88" y="241" width="5" height="5" fill="#000"/>
<rect x="98" y="240" width="1" height="23" fill="#000"/>
<rect x="96" y="244" width="5" height="18" fill="#000"/>
<rect x="106" y="249" width="1" height="43" fill="#000"/>
<rect x="104" y="255" width="5" height="7" fill="#000"/>
<rect x="105" y="256" width="3" height="5" fill="#fff"/>
<rect x="114" y="248" width="1" height="29" fill="#000"/>
<rect x="112" y="255" width="5" height="13" fill="#000"/>
<rect x="122" y="228" width="1" height="43" fill="#000"/>
<rect x="120" y="237" width="5" height="30" fill="#000"/>
<rect x="121" y="238" width="3" height="28" fill="#fff"/>
<rect x="130" y="235" width="1" height="29" fill="#000"/>
<rect x="128" y="237" width="5" height="8" fill="#000"/>
<rect x="138" y="233" width="1" height="13" fill="#000"/>
<rect x="136" y="244" width="5" height="1" fill="#000"/>
<rect x="146" y="232" width="1" height="42" fill="#000"/>
<rect x="144" y="245" width="5" height="22" fill="#000"/>
<rect x="154" y="262" width="1" height="40" fill="#000"/>
<rect x="152" y="266" width="5" height="5" fill="#000"/>
<rect x="162" y="266" width="1" height="46" fill="#000"/>
<rect x="160" y="269" width="5" height="34" fill="#000"/>
<rect x="170" y="239" width="1" height="73" fill="#000"/>
<rect x="168" y="295" width="5" height="8" fill="#000"/>
<rect x="169" y="296" width="3" height="6" fill="#fff"/>
<rect x="178" y="288" width="1" height="42" fill="#000"/>
<rect x="176" y="295" width="5" height="25" fill="#000"/>
<rect x="186" y="314" width="1" height="11" fill="#000"/>
<rect x="184" y="319" width="5" height="5" fill="#000"/>
<rect x="194" y="311" width="1" height="37" fill="#000"/>
<rect x="192" y="316" width="5" height="7" fill="#000"/>
<rect x="193" y="317" width="3" height="5" fill="#fff"/>
<rect x="202" y="302" width="1" height="37" fill="#000"/>
<rect x="200" y="316" width="5" height="1" fill="#000"/>
<rect x="210" y="291" width="1" height="37" fill="#000"/>
<rect x="208" y="316" width="5" height="6" fill="#000"/>
<rect x="218" y="288" width="1" height="38" fill="#000"/>
<rect x="216" y="312" width="5" height="10" fill="#000"/>
<rect x="217" y="313" width="3" height="8" fill="#fff"/>
<rect x="226" y="296" width="1" height="22" fill="#000"/>
<rect x="224" y="297" width="5" height="16" fill="#000"/>
<rect x="225" y="298" width="3" height="14" fill="#fff"/>
<rect x="234" y="280" width="1" height="22" fill="#000"/>
<rect x="232" y="284" width="5" height="13" fill="#000"/>
<rect x="233" y="285" width="3" height="11" fill="#fff"/>
<rect x="242" y="274" width="1" height="44" fill="#000"/>
<rect x="240" y="284" width="5" height="28" fill="#000"/>
<rect x="250" y="308" width="1" height="28" fill="#000"/>
<rect x="248" y="311" width="5" height="18" fill="#000"/>
<rect x="258" y="315" width="1" height="20" fill="#000"/>
<rect x="256" y="318" width="5" height="11" fill="#000"/>
<rect x="257" y="319" width="3" height="9" fill="#fff"/>
<rect x="266" y="315" width="1" height="79" fill="#000"/>
<rect x="264" y="319" width="5" height="54" fill="#000"/>
<rect x="274" y="348" width="1" height="30" fill="#000"/>
<rect x="272" y="360" width="5" height="12" fill="#000"/>
<rect x="273" y="361" width="3" height="10" fill="#fff"/>
<rect x="282" y="355" width="1" height="26" fill="#000"/>
<rect x="280" y="361" width="5" height="5" fill="#000"/>
<rect x="290" y="353" width="1" height="28" fill="#000"/>
<rect x="288" y="359" width="5" height="7" fill="#000"/>
<rect x="289" y="360" width="3" height="5" fill="#fff"/>
<rect x="298" y="322" width="1" height="36" fill="#000"/>
<rect x="296" y="324" width="5" height="35" fill="#000"/>
<rect x="297" y="325" width="3" height="33" fill="#fff"/>
<rect x="306" y="315" width="1" height="38" fill="#000"/>
<rect x="304" y="323" width="5" height="14" fill="#000"/>
<rect x="314" y="321" width="1" height="85" fill="#000"/>
<rect x="312" y="335" width="5" height="56" fill="#000"/>
<rect x="322" y="380" width="1" height="26" fill="#000"/>
<rect x="320" y="391" width="5" height="6" fill="#000"/>
<rect x="330" y="407" width="1" height="9" fill="#000"/>
<rect x="328" y="409" width="5" height="1" fill="#000"/>
<rect x="338" y="402" width="1" height="68" fill="#000"/>
<rect x="336" y="410" width="5" height="51" fill="#000"/>
<rect x="346" y="442" width="1" height="27" fill="#000"/>
<rect x="344" y="452" width="5" height="8" fill="#000"/>
<rect x="345" y="453" width="3" height="6" fill="#fff"/>
<rect x="354" y="443" width="1" height="35" fill="#000"/>
<rect x="352" y="452" width="5" height="23" fill="#000"/>
<rect x="362" y="411" width="1" height="69" fill="#000"/>
<rect x="360" y="437" width="5" height="39" fill="#000"/>
<rect x="361" y="438" width="3" height="37" fill="#fff"/>
<rect x="370" y="410" width="1" height="48" fill="#000"/>
<rect x="368" y="411" width="5" height="27" fill="#000"/>
<rect x="369" y="412" width="3" height="25" fill="#fff"/>
<rect x="378" y="408" width="1" height="25" fill="#000"/>
<rect x="376" y="411" width="5" height="6" fill="#000"/>
<rect x="386" y="400" width="1" height="34" fill="#000"/>
<rect x="384" y="402" width="5" height="15" fill="#000"/>
<rect x="385" y="403" width="3" height="13" fill="#fff"/>
<rect x="394" y="387" width="1" height="23" fill="#000"/>
<rect x="392" y="399" width="5" height="4" fill="#000"/>
<rect x="393" y="400" width="3" height="2" fill="#fff"/>
<rect x="402" y="378" width="1" height="42" fill="#000"/>
<rect x="400" y="399" width="5" height="11" fill="#000"/>
<rect x="410" y="408" width="1" height="70" fill="#000"/>
<rect x="408" y="409" width="5" height="40" fill="#000"/>
<rect x="418" y="444" width="1" height="24" fill="#000"/>
<rect x="416" y="448" width="5" height="12" fill="#000"/>
<rect x="426" y="455" width="1" height="18" fill="#000"/>
<rect x="424" y="459" width="5" height="8" fill="#000"/>
<rect x="434" y="402" width="1" height="72" fill="#000"/>
<rect x="432" y="448" width="5" height="20" fill="#000"/>
<rect x="433" y="449" width="3" height="18" fill="#fff"/>
<rect x="442" y="423" width="1" height="29" fill="#000"/>
<rect x="440" y="445" width="5" height="5" fill="#000"/>
<rect x="441" y="446" width="3" height="3" fill="#fff"/>
<rect x="450" y="425" width="1" height="27" fill="#000"/>
<rect x="448" y="432" width="5" height="13" fill="#000"/>
<rect x="449" y="433" width="3" height="11" fill="#fff"/>
<rect x="458" y="407" width="1" height="48" fill="#000"/>
<rect x="456" y="412" width="5" height="20" fill="#000"/>
<rect x="457" y="413" width="3" height="18" fill="#fff"/>
<rect x="466" y="357" width="1" height="105" fill="#000"/>
<rect x="464" y="412" width="5" height="37" fill="#000"/>
<rect x="474" y="444" width="1" height="18" fill="#000"/>
<rect x="472" y="448" width="5" height="13" fill="#000"/>
<rect x="482" y="448" width="1" height="28" fill="#000"/>
<rect x="480" y="453" width="5" height="8" fill="#000"/>
<rect x="481" y="454" width="3" height="6" fill="#fff"/>
<rect x="490" y="410" width="1" height="49" fill="#000"/>
<rect x="488" y="411" width="5" height="43" fill="#000"/>
<rect x="489" y="412" width="3" height="41" fill="#fff"/>
<rect x="498" y="367" width="1" height="54" fill="#000"/>
<rect x="496" y="386" width="5" height="26" fill="#000"/>
<rect x="497" y="387" width="3" height="24" fill="#fff"/>
<rect x="506" y="330" width="1" height="68" fill="#000"/>
<rect x="504" y="357" width="5" height="29" fill="#000"/>
<rect x="505" y="358" width="3" height="27" fill="#fff"/>
<rect x="514" y="326" width="1" height="38" fill="#000"/>
<rect x="512" y="347" width="5" height="11" fill="#000"/>
<rect x="513" y="348" width="3" height="9" fill="#fff"/>
<rect x="522" y="346" width="1" height="20" fill="#000"/>
<rect x="520" y="347" width="5" height="10" fill="#000"/>
<rect x="530" y="324" width="1" height="45" fill="#000"/>
<rect x="528" y="351" width="5" height="4" fill="#000"/>
<rect x="529" y="352" width="3" height="2" fill="#fff"/>
<rect x="538" y="347" width="1" height="45" fill="#000"/>
<rect x="536" y="351" width="5" height="33" fill="#000"/>
<rect x="546" y="376" width="1" height="60" fill="#000"/>
<rect x="544" y="384" width="5" height="52" fill="#000"/>
<rect x="554" y="414" width="1" height="41" fill="#000"/>
<rect x="552" y="421" width="5" height="15" fill="#000"/>
<rect x="553" y="422" width="3" height="13" fill="#fff"/>
<rect x="562" y="406" width="1" height="22" fill="#000"/>
<rect x="560" y="421" width="5" height="1" fill="#000"/>
<rect x="570" y="402" width="1" height="14" fill="#000"/>
<rect x="568" y="407" width="5" height="7" fill="#000"/>
<rect x="569" y="408" width="3" height="5" fill="#fff"/>
<rect x="578" y="366" width="1" height="43" fill="#000"/>
<rect x="576" y="386" width="5" height="22" fill="#000"/>
<rect x="577" y="387" width="3" height="20" fill="#fff"/>
<rect x="586" y="371" width="1" height="41" fill="#000"/>
<rect x="584" y="387" width="5" height="24" fill="#000"/>
<rect x="594" y="396" width="1" height="37" fill="#000"/>
<rect x="592" y="410" width="5" height="18" fill="#000"/>
<rect x="602" y="371" width="1" height="62" fill="#000"/>
<rect x="600" y="377" width="5" height="51" fill="#000"/>
<rect x="601" y="378" width="3" height="49" fill="#fff"/>
<rect x="610" y="360" width="1" height="22" fill="#000"/>
<rect x="608" y="367" width="5" height="11" fill="#000"/>
<rect x="609" y="368" width="3" height="9" fill="#fff"/>
<rect x="618" y="366" width="1" height="18" fill="#000"/>
<rect x="616" y="367" width="5" height="16" fill="#000"/>
<rect x="626" y="340" width="1" height="67" fill="#000"/>
<rect x="624" y="354" width="5" height="29" fill="#000"/>
<rect x="625" y="355" width="3" height="27" fill="#fff"/>
<rect x="634" y="334" width="1" height="77" fill="#000"/>
<rect x="632" y="355" width="5" height="38" fill="#000"/>
<rect x="642" y="392" width="1" height="53" fill="#000"/>
<rect x="640" y="392" width="5" height="34" fill="#000"/>
<rect x="650" y="421" width="1" height="45" fill="#000"/>
<rect x="648" y="424" width="5" height="31" fill="#000"/>
<rect x="658" y="443" width="1" height="29" fill="#000"/>
<rect x="656" y="448" width="5" height="7" fill="#000"/>
<rect x="657" y="449" width="3" height="5" fill="#fff"/>
<rect x="666" y="440" width="1" height="17" fill="#000"/>
<rect x="664" y="441" width="5" height="8" fill="#000"/>
<rect x="665" y="442" width="3" height="6" fill="#fff"/>
<rect x="674" y="430" width="1" height="40" fill="#000"/>
<rect x="672" y="433" width="5" height="8" fill="#000"/>
<rect x="673" y="434" width="3" height="6" fill="#fff"/>
<rect x="682" y="408" width="1" height="47" fill="#000"/>
<rect x="680" y="432" width="5" height="3" fill="#000"/>
<rect x="690" y="421" width="1" height="55" fill="#000"/>
<rect x="688" y="435" width="5" height="29" fill="#000"/>
<rect x="698" y="454" width="1" height="90" fill="#000"/>
<rect x="696" y="464" width="5" height="68" fill="#000"/>
<rect x="706" y="524" width="1" height="38" fill="#000"/>
<rect x="704" y="531" width="5" height="25" fill="#000"/>
<rect x="714" y="542" width="1" height="16" fill="#000"/>
<rect x="712" y="547" width="5" height="9" fill="#000"/>
<rect x="713" y="548" width="3" height="7" fill="#fff"/>
<rect x="722" y="501" width="1" height="49" fill="#000"/>
<rect x="720" y="507" width="5" height="41" fill="#000"/>
<rect x="721" y="508" width="3" height="39" fill="#fff"/>
<rect x="730" y="492" width="1" height="39" fill="#000"/>
<rect x="728" y="498" width="5" height="10" fill="#000"/>
<rect x="729" y="499" width="3" height="8" fill="#fff"/>
<rect x="738" y="489" width="1" height="45" fill="#000"/>
<rect x="736" y="499" width="5" height="23" fill="#000"/>
<rect x="746" y="420" width="1" height="105" fill="#000"/>
<rect x="744" y="467" width="5" height="55" fill="#000"/>
<rect x="745" y="468" width="3" height="53" fill="#fff"/>
<rect x="754" y="453" width="1" height="50" fill="#000"/>
<rect x="752" y="467" width="5" height="3" fill="#000"/>
<rect x="762" y="463" width="1" height="11" fill="#000"/>
<rect x="760" y="466" width="5" height="4" fill="#000"/>
<rect x="761" y="467" width="3" height="2" fill="#fff"/>
<rect x="770" y="446" width="1" height="40" fill="#000"/>
<rect x="768" y="467" width="5" height="18" fill="#000"/>
<rect x="778" y="481" width="1" height="45" fill="#000"/>
<rect x="776" y="483" width="5" height="22" fill="#000"/>
<rect x="786" y="414" width="1" height="95" fill="#000"/>
<rect x="784" y="415" width="5" height="90" fill="#000"/>
<rect x="785" y="416" width="3" height="88" fill="#fff"/>
<rect x="794" y="392" width="1" height="46" fill="#000"/>
<rect x="792" y="399" width="5" height="18" fill="#000"/>
<rect x="793" y="400" width="3" height="16" fill="#fff"/>
<rect x="802" y="390" width="1" height="17" fill="#000"/>
<rect x="800" y="400" width="5" height="6" fill="#000"/>
<rect x="810" y="381" width="1" height="12" fill="#000"/>
<rect x="808" y="388" width="5" height="5" fill="#000"/>
<rect x="818" y="378" width="1" height="52" fill="#000"/>
<rect x="816" y="392" width="5" height="21" fill="#000"/>
<rect x="826" y="390" width="1" height="40" fill="#000"/>
<rect x="824" y="408" width="5" height="5" fill="#000"/>
<rect x="825" y="409" width="3" height="3" fill="#fff"/>
<rect x="834" y="368" width="1" height="62" fill="#000"/>
<rect x="832" y="369" width="5" height="39" fill="#000"/>
<rect x="833" y="370" width="3" height="37" fill="#fff"/>
<rect x="842" y="344" width="1" height="52" fill="#000"/>
<rect x="840" y="368" width="5" height="11" fill="#000"/>
<rect x="850" y="364" width="1" height="19" fill="#000"/>
<rect x="848" y="369" width="5" height="10" fill="#000"/>
<rect x="849" y="370" width="3" height="8" fill="#fff"/>
<rect x="858" y="360" width="1" height="30" fill="#000"/>
<rect x="856" y="368" width="5" height="2" fill="#000"/>
<rect x="866" y="362" width="1" height="50" fill="#000"/>
<rect x="864" y="368" width="5" height="36" fill="#000"/>
<rect x="874" y="393" width="1" height="41" fill="#000"/>
<rect x="872" y="402" width="5" height="2" fill="#000"/>
<rect x="882" y="379" width="1" height="28" fill="#000"/>
<rect x="880" y="384" width="5" height="19" fill="#000"/>
<rect x="881" y="385" width="3" height="17" fill="#fff"/>
<rect x="890" y="353" width="1" height="51" fill="#000"/>
<rect x="888" y="358" width="5" height="27" fill="#000"/>
<rect x="889" y="359" width="3" height="25" fill="#fff"/>
<rect x="898" y="349" width="1" height="24" fill="#000"/>
<rect x="896" y="359" width="5" height="12" fill="#000"/>
<rect x="906" y="362" width="1" height="12" fill="#000"/>
<rect x="904" y="370" width="5" height="2" fill="#000"/>
<rect x="914" y="364" width="1" height="51" fill="#000"/>
<rect x="912" y="371" width="5" height="35" fill="#000"/>
<rect x="922" y="402" width="1" height="60" fill="#000"/>
<rect x="920" y="406" width="5" height="54" fill="#000"/>
<rect x="930" y="438" width="1" height="33" fill="#000"/>
<rect x="928" y="441" width="5" height="19" fill="#000"/>
<rect x="929" y="442" width="3" height="17" fill="#fff"/>
<rect x="938" y="403" width="1" height="44" fill="#000"/>
<rect x="936" y="421" width="5" height="20" fill="#000"/>
<rect x="937" y="422" width="3" height="18" fill="#fff"/>
<rect x="946" y="389" width="1" height="49" fill="#000"/>
<rect x="944" y="391" width="5" height="31" fill="#000"/>
<rect x="945" y="392" width="3" height="29" fill="#fff"/>
<rect x="954" y="377" width="1" height="25" fill="#000"/>
<rect x="952" y="379" width="5" height="14" fill="#000"/>
<rect x="953" y="380" width="3" height="12" fill="#fff"/>
<rect x="962" y="367" width="1" height="23" fill="#000"/>
<rect x="960" y="375" width="5" height="6" fill="#000"/>
<rect x="961" y="376" width="3" height="4" fill="#fff"/>
<rect x="970" y="347" width="1" height="51" fill="#000"/>
<rect x="968" y="360" width="5" height="16" fill="#000"/>
<rect x="969" y="361" width="3" height="14" fill="#fff"/>
<rect x="978" y="331" width="1" height="54" fill="#000"/>
<rect x="976" y="343" width="5" height="18" fill="#000"/>
<rect x="977" y="344" width="3" height="16" fill="#fff"/>
<rect x="986" y="311" width="1" height="77" fill="#000"/>
<rect x="984" y="317" width="5" height="27" fill="#000"/>
<rect x="985" y="318" width="3" height="25" fill="#fff"/>
<rect x="994" y="316" width="1" height="23" fill="#000"/>
<rect x="992" y="317" width="5" height="14" fill="#000"/>
<rect x="1002" y="322" width="1" height="14" fill="#000"/>
<rect x="1000" y="324" width="5" height="7" fill="#000"/>
<rect x="1001" y="325" width="3" height="5" fill="#fff"/>
<rect x="1010" y="312" width="1" height="33" fill="#000"/>
<rect x="1008" y="324" width="5" height="18" fill="#000"/>
<rect x="1018" y="335" width="1" height="36" fill="#000"/>
<rect x="1016" y="341" width="5" height="20" fill="#000"/>
<rect x="1026" y="342" width="1" height="28" fill="#000"/>
<rect x="1024" y="344" width="5" height="19" fill="#000"/>
<rect x="1025" y="345" width="3" height="17" fill="#fff"/>
<rect x="1034" y="289" width="1" height="64" fill="#000"/>
<rect x="1032" y="337" width="5" height="8" fill="#000"/>
<rect x="1033" y="338" width="3" height="6" fill="#fff"/>
<rect x="1042" y="326" width="1" height="26" fill="#000"/>
<rect x="1040" y="329" width="5" height="10" fill="#000"/>
<rect x="1041" y="330" width="3" height="8" fill="#fff"/>
<rect x="1050" y="344" width="1" height="20" fill="#000"/>
<rect x="1048" y="345" width="5" height="17" fill="#000"/>
<rect x="1058" y="300" width="1" height="61" fill="#000"/>
<rect x="1056" y="321" width="5" height="39" fill="#000"/>
<rect x="1057" y="322" width="3" height="37" fill="#fff"/>
<rect x="1066" y="279" width="1" height="48" fill="#000"/>
<rect x="1064" y="282" width="5" height="41" fill="#000"/>
<rect x="1065" y="283" width="3" height="39" fill="#fff"/>
<rect x="1074" y="270" width="1" height="31" fill="#000"/>
<rect x="1072" y="281" width="5" height="2" fill="#000"/>
<rect x="1082" y="233" width="1" height="56" fill="#000"/>
<rect x="1080" y="240" width="5" height="42" fill="#000"/>
<rect x="1081" y="241" width="3" height="40" fill="#fff"/>
<rect x="1090" y="240" width="1" height="40" fill="#000"/>
<rect x="1088" y="240" width="5" height="41" fill="#000"/>
<rect x="1098" y="265" width="1" height="18" fill="#000"/>
<rect x="1096" y="272" width="5" height="9" fill="#000"/>
<rect x="1097" y="273" width="3" height="7" fill="#fff"/>
<rect x="1106" y="269" width="1" height="29" fill="#000"/>
<rect x="1104" y="272" width="5" height="19" fill="#000"/>
<rect x="1114" y="250" width="1" height="40" fill="#000"/>
<rect x="1112" y="261" width="5" height="30" fill="#000"/>
<rect x="1113" y="262" width="3" height="28" fill="#fff"/>
<rect x="1122" y="214" width="1" height="57" fill="#000"/>
<rect x="1120" y="215" width="5" height="48" fill="#000"/>
<rect x="1121" y="216" width="3" height="46" fill="#fff"/>
<rect x="1130" y="212" width="1" height="63" fill="#000"/>
<rect x="1128" y="215" width="5" height="33" fill="#000"/>
<rect x="1138" y="243" width="1" height="29" fill="#000"/>
<rect x="1136" y="247" width="5" height="17" fill="#000"/>
<rect x="1146" y="264" width="1" height="36" fill="#000"/>
<rect x="1144" y="264" width="5" height="35" fill="#000"/>
<rect x="1154" y="278" width="1" height="25" fill="#000"/>
<rect x="1152" y="291" width="5" height="6" fill="#000"/>
<rect x="1153" y="292" width="3" height="4" fill="#fff"/>
<rect x="1162" y="271" width="1" height="27" fill="#000"/>
<rect x="1160" y="272" width="5" height="20" fill="#000"/>
<rect x="1161" y="273" width="3" height="18" fill="#fff"/>
<rect x="1170" y="250" width="1" height="25" fill="#000"/>
<rect x="1168" y="259" width="5" height="14" fill="#000"/>
<rect x="1169" y="260" width="3" height="12" fill="#fff"/>
<rect x="1178" y="227" width="1" height="87" fill="#000"/>
<rect x="1176" y="237" width="5" height="25" fill="#000"/>
<rect x="1177" y="238" width="3" height="23" fill="#fff"/>
<rect x="1186" y="218" width="1" height="20" fill="#000"/>
<rect x="1184" y="221" width="5" height="16" fill="#000"/>
<rect x="1185" y="222" width="3" height="14" fill="#fff"/>
<rect x="1194" y="214" width="1" height="13" fill="#000"/>
<rect x="1192" y="216" width="5" height="7" fill="#000"/>
<rect x="1193" y="217" width="3" height="5" fill="#fff"/>
<rect x="1202" y="197" width="1" height="37" fill="#000"/>
<rect x="1200" y="207" width="5" height="9" fill="#000"/>
<rect x="1201" y="208" width="3" height="7" fill="#fff"/>
<rect x="1210" y="178" width="1" height="38" fill="#000"/>
<rect x="1208" y="187" width="5" height="21" fill="#000"/>
<rect x="1209" y="188" width="3" height="19" fill="#fff"/>
<rect x="1218" y="157" width="1" height="32" fill="#000"/>
<rect x="1216" y="170" width="5" height="18" fill="#000"/>
<rect x="1217" y="171" width="3" height="16" fill="#fff"/>
<rect x="1226" y="145" width="1" height="31" fill="#000"/>
<rect x="1224" y="158" width="5" height="13" fill="#000"/>
<rect x="1225" y="159" width="3" height="11" fill="#fff"/>
<rect x="1234" y="154" width="1" height="22" fill="#000"/>
<rect x="1232" y="157" width="5" height="8" fill="#000"/>
<rect x="1242" y="154" width="1" height="14" fill="#000"/>
<rect x="1240" y="164" width="5" height="4" fill="#000"/>
<rect x="1250" y="149" width="1" height="32" fill="#000"/>
<rect x="1248" y="163" width="5" height="5" fill="#000"/>
<rect x="1249" y="164" width="3" height="3" fill="#fff"/>
<rect x="1258" y="124" width="1" height="41" fill="#000"/>
<rect x="1256" y="152" width="5" height="13" fill="#000"/>
<rect x="1257" y="153" width="3" height="11" fill="#fff"/>
<rect x="1266" y="140" width="1" height="29" fill="#000"/>
<rect x="1264" y="151" width="5" height="8" fill="#000"/>
<rect x="1274" y="143" width="1" height="41" fill="#000"/>
<rect x="1272" y="159" width="5" height="6" fill="#000"/>
<rect x="1282" y="153" width="1" height="18" fill="#000"/>
<rect x="1280" y="156" width="5" height="9" fill="#000"/>
<rect x="1281" y="157" width="3" height="7" fill="#fff"/>
<rect x="1290" y="140" width="1" height="16" fill="#000"/>
<rect x="1288" y="149" width="5" height="3" fill="#000"/>
<rect x="1289" y="150" width="3" height="1" fill="#fff"/>
<rect x="1298" y="147" width="1" height="43" fill="#000"/>
<rect x="1296" y="148" width="5" height="36" fill="#000"/>
<rect x="1306" y="177" width="1" height="26" fill="#000"/>
<rect x="1304" y="180" width="5" height="4" fill="#000"/>
<rect x="1305" y="181" width="3" height="2" fill="#fff"/>
<rect x="1314" y="176" width="1" height="44" fill="#000"/>
<rect x="1312" y="179" width="5" height="32" fill="#000"/>
<rect x="1322" y="161" width="1" height="63" fill="#000"/>
<rect x="1320" y="161" width="5" height="50" fill="#000"/>
<rect x="1321" y="162" width="3" height="48" fill="#fff"/>
<rect x="1330" y="158" width="1" height="12" fill="#000"/>
<rect x="1328" y="161" width="5" height="4" fill="#000"/>
<rect x="1338" y="163" width="1" height="14" fill="#000"/>
<rect x="1336" y="164" width="5" height="1" fill="#000"/>
<rect x="1346" y="105" width="1" height="59" fill="#000"/>
<rect x="1344" y="113" width="5" height="51" fill="#000"/>
<rect x="1345" y="114" width="3" height="49" fill="#fff"/>
<rect x="1354" y="65" width="1" height="48" fill="#000"/>
<rect x="1352" y="91" width="5" height="21" fill="#000"/>
<rect x="1353" y="92" width="3" height="19" fill="#fff"/>
<rect x="1362" y="68" width="1" height="28" fill="#000"/>
<rect x="1360" y="79" width="5" height="12" fill="#000"/>
<rect x="1361" y="80" width="3" height="10" fill="#fff"/>
<rect x="1370" y="53" width="1" height="47" fill="#000"/>
<rect x="1368" y="57" width="5" height="22" fill="#000"/>
<rect x="1369" y="58" width="3" height="20" fill="#fff"/>
<rect x="1378" y="50" width="1" height="23" fill="#000"/>
<rect x="1376" y="58" width="5" height="8" fill="#000"/>
<rect x="1386" y="65" width="1" height="11" fill="#000"/>
<rect x="1384" y="66" width="5" height="9" fill="#000"/>
</g>
<polygon points="1156.8,276.0 1405.3,65.7 1402.7,62.7 1154.8,273.6" fill="#ff0000" shape-rendering="crispEdges"/>
<polygon points="1412,57 1399.5,60.5 1406.5,68.5" fill="#ff0000"/>
<rect x="1340" y="86" width="94" height="8" fill="#00ff00" shape-rendering="crispEdges"/>
<rect x="1307.5" y="40.5" width="61" height="18" fill="#fff" stroke="#ff0000" stroke-width="1" shape-rendering="crispEdges"/>
<text x="1309.5" y="55.6" font-size="16" fill="#ff0000" textLength="57.5" lengthAdjust="spacingAndGlyphs" >0.74850</text>
<rect x="1369.5" y="47.5" width="2" height="3" fill="#fff" stroke="#ff0000" stroke-width="1" shape-rendering="crispEdges"/>
<rect x="1179" y="90" width="8" height="1" fill="#ff0000"/>
<rect x="1189.5" y="78.5" width="73" height="24" fill="#fff" stroke="#ff0000" stroke-width="1" shape-rendering="crispEdges"/>
<text x="1191" y="99.1" font-size="22.3" fill="#ff0000" textLength="70.5" lengthAdjust="spacingAndGlyphs" >0.74597</text>
<rect x="1186.5" y="88.5" width="2" height="3" fill="#fff" stroke="#ff0000" stroke-width="1" shape-rendering="crispEdges"/>
<rect x="635.5" y="551.5" width="61" height="18" fill="#fff" stroke="#ff0000" stroke-width="1" shape-rendering="crispEdges"/>
<text x="637.4" y="567.2" font-size="16.8" fill="#ff0000" textLength="57.6" lengthAdjust="spacingAndGlyphs" >0.71698</text>
<rect x="697" y="560" width="9" height="1" fill="#ff0000"/>
<g shape-rendering="crispEdges">
<rect x="0" y="22" width="1646" height="1" fill="#000"/>
<rect x="0" y="575" width="1646" height="1" fill="#000"/>
<rect x="0" y="577" width="1646" height="1" fill="#000"/>
<rect x="0" y="747" width="1646" height="1" fill="#000"/>
<rect x="0" y="749" width="1646" height="1" fill="#000"/>
<rect x="0" y="923" width="1646" height="1" fill="#000"/>
<rect x="1645" y="22" width="1" height="902" fill="#000"/>
</g>
<polygon points="1390,23 1399.2,23 1394.6,28" fill="#c0c0c0"/>
<g shape-rendering="crispEdges">
<rect x="2" y="660" width="1" height="19" fill="#c0c0c0"/>
<rect x="10" y="660" width="1" height="19" fill="#c0c0c0"/>
<rect x="18" y="660" width="1" height="16" fill="#c0c0c0"/>
<rect x="26" y="660" width="1" height="15" fill="#c0c0c0"/>
<rect x="34" y="660" width="1" height="16" fill="#c0c0c0"/>
<rect x="42" y="660" width="1" height="18" fill="#c0c0c0"/>
<rect x="50" y="660" width="1" height="16" fill="#c0c0c0"/>
<rect x="58" y="660" width="1" height="9" fill="#c0c0c0"/>
<rect x="66" y="660" width="1" height="4" fill="#c0c0c0"/>
<rect x="74" y="660" width="1" height="8" fill="#c0c0c0"/>
<rect x="82" y="660" width="1" height="11" fill="#c0c0c0"/>
<rect x="90" y="660" width="1" height="12" fill="#c0c0c0"/>
<rect x="98" y="660" width="1" height="17" fill="#c0c0c0"/>
<rect x="106" y="660" width="1" height="19" fill="#c0c0c0"/>
<rect x="114" y="660" width="1" height="22" fill="#c0c0c0"/>
<rect x="122" y="660" width="1" height="20" fill="#c0c0c0"/>
<rect x="130" y="660" width="1" height="19" fill="#c0c0c0"/>
<rect x="138" y="660" width="1" height="18" fill="#c0c0c0"/>
<rect x="146" y="660" width="1" height="20" fill="#c0c0c0"/>
<rect x="154" y="660" width="1" height="22" fill="#c0c0c0"/>
<rect x="162" y="660" width="1" height="28" fill="#c0c0c0"/>
<rect x="170" y="660" width="1" height="31" fill="#c0c0c0"/>
<rect x="178" y="660" width="1" height="37" fill="#c0c0c0"/>
<rect x="186" y="660" width="1" height="41" fill="#c0c0c0"/>
<rect x="194" y="660" width="1" height="43" fill="#c0c0c0"/>
<rect x="202" y="660" width="1" height="44" fill="#c0c0c0"/>
<rect x="210" y="660" width="1" height="46" fill="#c0c0c0"/>
<rect x="218" y="660" width="1" height="45" fill="#c0c0c0"/>
<rect x="226" y="660" width="1" height="41" fill="#c0c0c0"/>
<rect x="234" y="660" width="1" height="36" fill="#c0c0c0"/>
<rect x="242" y="660" width="1" height="36" fill="#c0c0c0"/>
<rect x="250" y="660" width="1" height="38" fill="#c0c0c0"/>
<rect x="258" y="660" width="1" height="37" fill="#c0c0c0"/>
<rect x="266" y="660" width="1" height="44" fill="#c0c0c0"/>
<rect x="274" y="660" width="1" height="47" fill="#c0c0c0"/>
<rect x="282" y="660" width="1" height="49" fill="#c0c0c0"/>
<rect x="290" y="660" width="1" height="50" fill="#c0c0c0"/>
<rect x="298" y="660" width="1" height="45" fill="#c0c0c0"/>
<rect x="306" y="660" width="1" height="43" fill="#c0c0c0"/>
<rect x="314" y="660" width="1" height="47" fill="#c0c0c0"/>
<rect x="322" y="660" width="1" height="51" fill="#c0c0c0"/>
<rect x="330" y="660" width="1" height="56" fill="#c0c0c0"/>
<rect x="338" y="660" width="1" height="66" fill="#c0c0c0"/>
<rect x="346" y="660" width="1" height="72" fill="#c0c0c0"/>
<rect x="354" y="660" width="1" height="79" fill="#c0c0c0"/>
<rect x="362" y="660" width="1" height="78" fill="#c0c0c0"/>
<rect x="370" y="660" width="1" height="73" fill="#c0c0c0"/>
<rect x="378" y="660" width="1" height="69" fill="#c0c0c0"/>
<rect x="386" y="660" width="1" height="63" fill="#c0c0c0"/>
<rect x="394" y="660" width="1" height="57" fill="#c0c0c0"/>
<rect x="402" y="660" width="1" height="54" fill="#c0c0c0"/>
<rect x="410" y="660" width="1" height="55" fill="#c0c0c0"/>
<rect x="418" y="660" width="1" height="58" fill="#c0c0c0"/>
<rect x="426" y="660" width="1" height="60" fill="#c0c0c0"/>
<rect x="434" y="660" width="1" height="59" fill="#c0c0c0"/>
<rect x="442" y="660" width="1" height="56" fill="#c0c0c0"/>
<rect x="450" y="660" width="1" height="52" fill="#c0c0c0"/>
<rect x="458" y="660" width="1" height="45" fill="#c0c0c0"/>
<rect x="466" y="660" width="1" height="45" fill="#c0c0c0"/>
<rect x="474" y="660" width="1" height="45" fill="#c0c0c0"/>
<rect x="482" y="660" width="1" height="44" fill="#c0c0c0"/>
<rect x="490" y="660" width="1" height="37" fill="#c0c0c0"/>
<rect x="498" y="660" width="1" height="26" fill="#c0c0c0"/>
<rect x="506" y="660" width="1" height="16" fill="#c0c0c0"/>
<rect x="514" y="660" width="1" height="4" fill="#c0c0c0"/>
<rect x="522" y="658" width="1" height="3" fill="#c0c0c0"/>
<rect x="530" y="652" width="1" height="9" fill="#c0c0c0"/>
<rect x="538" y="652" width="1" height="9" fill="#c0c0c0"/>
<rect x="546" y="659" width="1" height="2" fill="#c0c0c0"/>
<rect x="562" y="660" width="1" height="2" fill="#c0c0c0"/>
<rect x="570" y="660" width="1" height="3" fill="#c0c0c0"/>
<rect x="578" y="660" width="1" height="1" fill="#c0c0c0"/>
<rect x="586" y="660" width="1" height="2" fill="#c0c0c0"/>
<rect x="594" y="660" width="1" height="5" fill="#c0c0c0"/>
<rect x="610" y="657" width="1" height="4" fill="#c0c0c0"/>
<rect x="618" y="656" width="1" height="5" fill="#c0c0c0"/>
<rect x="626" y="650" width="1" height="11" fill="#c0c0c0"/>
<rect x="634" y="652" width="1" height="9" fill="#c0c0c0"/>
<rect x="642" y="657" width="1" height="4" fill="#c0c0c0"/>
<rect x="650" y="660" width="1" height="4" fill="#c0c0c0"/>
<rect x="658" y="660" width="1" height="10" fill="#c0c0c0"/>
<rect x="666" y="660" width="1" height="14" fill="#c0c0c0"/>
<rect x="674" y="660" width="1" height="16" fill="#c0c0c0"/>
<rect x="682" y="660" width="1" height="16" fill="#c0c0c0"/>
<rect x="690" y="660" width="1" height="22" fill="#c0c0c0"/>
<rect x="698" y="660" width="1" height="35" fill="#c0c0c0"/>
<rect x="706" y="660" width="1" height="48" fill="#c0c0c0"/>
<rect x="714" y="660" width="1" height="56" fill="#c0c0c0"/>
<rect x="722" y="660" width="1" height="57" fill="#c0c0c0"/>
<rect x="730" y="660" width="1" height="56" fill="#c0c0c0"/>
<rect x="738" y="660" width="1" height="57" fill="#c0c0c0"/>
<rect x="746" y="660" width="1" height="50" fill="#c0c0c0"/>
<rect x="754" y="660" width="1" height="44" fill="#c0c0c0"/>
<rect x="762" y="660" width="1" height="38" fill="#c0c0c0"/>
<rect x="770" y="660" width="1" height="36" fill="#c0c0c0"/>
<rect x="778" y="660" width="1" height="37" fill="#c0c0c0"/>
<rect x="786" y="660" width="1" height="24" fill="#c0c0c0"/>
<rect x="794" y="660" width="1" height="12" fill="#c0c0c0"/>
<rect x="802" y="660" width="1" height="2" fill="#c0c0c0"/>
<rect x="810" y="656" width="1" height="5" fill="#c0c0c0"/>
<rect x="818" y="652" width="1" height="9" fill="#c0c0c0"/>
<rect x="826" y="648" width="1" height="13" fill="#c0c0c0"/>
<rect x="834" y="640" width="1" height="21" fill="#c0c0c0"/>
<rect x="842" y="635" width="1" height="26" fill="#c0c0c0"/>
<rect x="850" y="630" width="1" height="31" fill="#c0c0c0"/>
<rect x="858" y="626" width="1" height="35" fill="#c0c0c0"/>
<rect x="866" y="629" width="1" height="32" fill="#c0c0c0"/>
<rect x="874" y="631" width="1" height="30" fill="#c0c0c0"/>
<rect x="882" y="631" width="1" height="30" fill="#c0c0c0"/>
<rect x="890" y="627" width="1" height="34" fill="#c0c0c0"/>
<rect x="898" y="627" width="1" height="34" fill="#c0c0c0"/>
<rect x="906" y="626" width="1" height="35" fill="#c0c0c0"/>
<rect x="914" y="631" width="1" height="30" fill="#c0c0c0"/>
<rect x="922" y="643" width="1" height="18" fill="#c0c0c0"/>
<rect x="930" y="650" width="1" height="11" fill="#c0c0c0"/>
<rect x="938" y="653" width="1" height="8" fill="#c0c0c0"/>
<rect x="946" y="651" width="1" height="10" fill="#c0c0c0"/>
<rect x="954" y="648" width="1" height="13" fill="#c0c0c0"/>
<rect x="962" y="645" width="1" height="16" fill="#c0c0c0"/>
<rect x="970" y="642" width="1" height="19" fill="#c0c0c0"/>
<rect x="978" y="636" width="1" height="25" fill="#c0c0c0"/>
<rect x="986" y="628" width="1" height="33" fill="#c0c0c0"/>
<rect x="994" y="625" width="1" height="36" fill="#c0c0c0"/>
<rect x="1002" y="621" width="1" height="40" fill="#c0c0c0"/>
<rect x="1010" y="621" width="1" height="40" fill="#c0c0c0"/>
<rect x="1018" y="625" width="1" height="36" fill="#c0c0c0"/>
<rect x="1026" y="625" width="1" height="36" fill="#c0c0c0"/>
<rect x="1034" y="625" width="1" height="36" fill="#c0c0c0"/>
<rect x="1042" y="625" width="1" height="36" fill="#c0c0c0"/>
<rect x="1050" y="629" width="1" height="32" fill="#c0c0c0"/>
<rect x="1058" y="627" width="1" height="34" fill="#c0c0c0"/>
<rect x="1066" y="621" width="1" height="40" fill="#c0c0c0"/>
<rect x="1074" y="616" width="1" height="45" fill="#c0c0c0"/>
<rect x="1082" y="607" width="1" height="54" fill="#c0c0c0"/>
<rect x="1090" y="606" width="1" height="55" fill="#c0c0c0"/>
<rect x="1098" y="605" width="1" height="56" fill="#c0c0c0"/>
<rect x="1106" y="607" width="1" height="54" fill="#c0c0c0"/>
<rect x="1114" y="606" width="1" height="55" fill="#c0c0c0"/>
<rect x="1122" y="599" width="1" height="62" fill="#c0c0c0"/>
<rect x="1130" y="598" width="1" height="63" fill="#c0c0c0"/>
<rect x="1138" y="601" width="1" height="60" fill="#c0c0c0"/>
<rect x="1146" y="608" width="1" height="53" fill="#c0c0c0"/>
<rect x="1154" y="614" width="1" height="47" fill="#c0c0c0"/>
<rect x="1162" y="616" width="1" height="45" fill="#c0c0c0"/>
<rect x="1170" y="617" width="1" height="44" fill="#c0c0c0"/>
<rect x="1178" y="615" width="1" height="46" fill="#c0c0c0"/>
<rect x="1186" y="611" width="1" height="50" fill="#c0c0c0"/>
<rect x="1194" y="610" width="1" height="51" fill="#c0c0c0"/>
<rect x="1202" y="606" width="1" height="55" fill="#c0c0c0"/>
<rect x="1210" y="601" width="1" height="60" fill="#c0c0c0"/>
<rect x="1218" y="596" width="1" height="65" fill="#c0c0c0"/>
<rect x="1226" y="591" width="1" height="70" fill="#c0c0c0"/>
<rect x="1234" y="589" width="1" height="72" fill="#c0c0c0"/>
<rect x="1242" y="588" width="1" height="73" fill="#c0c0c0"/>
<rect x="1250" y="588" width="1" height="73" fill="#c0c0c0"/>
<rect x="1258" y="587" width="1" height="74" fill="#c0c0c0"/>
<rect x="1266" y="588" width="1" height="73" fill="#c0c0c0"/>
<rect x="1274" y="591" width="1" height="70" fill="#c0c0c0"/>
<rect x="1282" y="592" width="1" height="69" fill="#c0c0c0"/>
<rect x="1290" y="594" width="1" height="67" fill="#c0c0c0"/>
<rect x="1298" y="600" width="1" height="61" fill="#c0c0c0"/>
<rect x="1306" y="605" width="1" height="56" fill="#c0c0c0"/>
<rect x="1314" y="614" width="1" height="47" fill="#c0c0c0"/>
<rect x="1322" y="615" width="1" height="46" fill="#c0c0c0"/>
<rect x="1330" y="616" width="1" height="45" fill="#c0c0c0"/>
<rect x="1338" y="617" width="1" height="44" fill="#c0c0c0"/>
<rect x="1346" y="610" width="1" height="51" fill="#c0c0c0"/>
<rect x="1354" y="605" width="1" height="56" fill="#c0c0c0"/>
<rect x="1362" y="599" width="1" height="62" fill="#c0c0c0"/>
<rect x="1370" y="592" width="1" height="69" fill="#c0c0c0"/>
<rect x="1378" y="588" width="1" height="73" fill="#c0c0c0"/>
<rect x="1386" y="588" width="1" height="73" fill="#c0c0c0"/>
</g>
<path d="M0 652.5h1M1 653.5h1M2 654.5h1M6 657.5h1M7 658.5h1M8 659.5h1M12 662.5h3M18 664.5h1M19 665.5h2M24 667.5h1M25 668.5h2M30 670.5h2M32 671.5h1M36 672.5h3M42 674.5h3M48 675.5h3M54 675.5h3M60 675.5h2M62 674.5h1M66.5 673v2M67 673.5h1M71 673.5h3M77 672.5h3M83 672.5h3M89 672.5h3M95 672.5h3M101 672.5h3M107 672.5h3M113 672.5h2M115 673.5h1M119 673.5h3M125 673.5h1M126 674.5h2M131 674.5h1M132 675.5h2M137 676.5h3M143 677.5h3M149 678.5h3M155 679.5h3M161 680.5h3M167 681.5h3M173 682.5h3M179 683.5h1M180 684.5h2M185 685.5h1M186 686.5h2M191 688.5h3M197 690.5h1M198 691.5h2M203 693.5h3M209 695.5h2M211 696.5h1M215 697.5h2M217 698.5h1M221 699.5h3M227 700.5h3M233 700.5h3M239 701.5h3M245 701.5h3M251 701.5h3M257 701.5h3M263 701.5h3M269 701.5h3M275 701.5h3M281 701.5h3M287 701.5h3M293 702.5h3M299 702.5h3M305 702.5h2M307 703.5h1M311 703.5h1M312 704.5h2M317 705.5h3M323 706.5h1M324 707.5h2M329 708.5h2M331 709.5h1M335 709.5h1M336 710.5h2M341 711.5h3M346 713.5h3M352 715.5h1M353 716.5h2M357 718.5h2M359 719.5h1M363 720.5h2M365 721.5h1M368 722.5h1M369 723.5h2M374 725.5h2M376 726.5h1M380 727.5h3M386 728.5h3M392 728.5h3M398 728.5h3M404 727.5h3M410 726.5h3M416 725.5h3M422 724.5h1M423 723.5h2M428 722.5h3M434 721.5h2M436 720.5h1M440 719.5h3M446 718.5h2M448 717.5h1M452 717.5h1M453 716.5h2M458 715.5h3M464 714.5h3M470 713.5h3M476 712.5h3M482 711.5h2M484 710.5h1M488 709.5h3M494 707.5h1M495 706.5h2M500 704.5h2M502 703.5h1M506 700.5h2M508 699.5h1M512 696.5h1M513 695.5h1M514 694.5h1M518 691.5h2M520 690.5h1M524 687.5h1M525 686.5h2M529 683.5h1M530 682.5h2M535 679.5h1M536 678.5h1M537 677.5h1M540 675.5h1M541 674.5h2M546 672.5h1M547 671.5h2M551 668.5h2M553 667.5h1M557 665.5h3M562 663.5h3M567 661.5h3M573 660.5h3M579 659.5h3M585 659.5h3M591 660.5h3M597 660.5h2M599 661.5h1M603 661.5h3M609 662.5h3M615 661.5h3M621 661.5h1M622 660.5h2M627 660.5h3M633 659.5h3M639 658.5h3M645 658.5h3M651 658.5h3M657 659.5h3M663 659.5h1M664 660.5h2M669 660.5h2M671 661.5h1M675 661.5h1M676 662.5h2M681 663.5h2M683 664.5h1M687 666.5h2M689 667.5h1M693 669.5h2M695 670.5h1M699 673.5h1M700 674.5h1M701 675.5h1M705 678.5h2M707 679.5h1M710 682.5h1M711 683.5h1M712 684.5h1M716 686.5h1M717 687.5h1M718 688.5h1M722 690.5h1M723 691.5h1M724 692.5h1M728 694.5h2M730 695.5h1M734 697.5h1M735 698.5h2M739 700.5h1M740 701.5h2M745 703.5h1M746 704.5h2M751 706.5h3M757 707.5h2M759 708.5h1M763 708.5h2M765 709.5h1M769 709.5h1M770 708.5h2M775 708.5h3M781 706.5h1M782 705.5h2M786 703.5h2M788 702.5h1M792 700.5h1M793 699.5h2M797 697.5h1M798 696.5h2M803 693.5h1M804 692.5h1M805 691.5h1M809.5 687v2M810 687.5h1M814 683.5h2M816 682.5h1M820 679.5h1M821 678.5h1M822 677.5h1M826 673.5h1M827 672.5h2M832 668.5h1M833 667.5h1M834 666.5h1M838 662.5h1M839 661.5h2M844 657.5h1M845 656.5h1M846 655.5h1M849 652.5h2M851 651.5h1M855 648.5h1M856 647.5h2M861.5 643v2M862 643.5h1M866 641.5h2M868 640.5h1M872 638.5h1M873.5 637v2M877 636.5h3M883 634.5h3M889 633.5h1M890 632.5h2M895 631.5h3M901 629.5h3M907 628.5h3M913 628.5h3M919 628.5h3M925 630.5h1M926 631.5h2M931 632.5h1M932 633.5h2M937 635.5h3M943 636.5h2M945 637.5h1M949 638.5h3M955 639.5h3M961 640.5h3M967 641.5h2M969 642.5h1M973 643.5h3M979 643.5h3M985 642.5h3M990 641.5h3M996 640.5h1M997 639.5h2M1002.5 637v2M1003 637.5h1M1007 635.5h2M1009 634.5h1M1013 633.5h1M1014 632.5h2M1019 631.5h1M1020 630.5h2M1025 629.5h3M1031 627.5h3M1037 626.5h1M1038 625.5h2M1043 625.5h3M1049 624.5h3M1055 624.5h3M1061 623.5h3M1067 623.5h3M1073 623.5h2M1075 622.5h1M1079.5 621v2M1080 621.5h1M1084 620.5h3M1090 619.5h2M1092 618.5h1M1096 617.5h3M1102 616.5h2M1104 615.5h1M1108 614.5h3M1114 612.5h2M1116 611.5h1M1119 609.5h3M1125 607.5h3M1131 605.5h3M1137 604.5h3M1143 603.5h3M1149 603.5h3M1155 604.5h3M1161 605.5h3M1167 605.5h1M1168 606.5h2M1173 606.5h1M1174 607.5h2M1179 607.5h3M1184 608.5h3M1190 608.5h3M1196 609.5h3M1202 610.5h3M1208 610.5h2M1210 609.5h1M1214 609.5h1M1215 608.5h2M1219 607.5h3M1225 606.5h1M1226 605.5h2M1231 604.5h2M1233 603.5h1M1237 601.5h3M1243 599.5h3M1248 597.5h3M1254 596.5h2M1256 595.5h1M1259 594.5h2M1261 593.5h1M1265 592.5h3M1271 591.5h1M1272 590.5h2M1277 590.5h1M1278 589.5h2M1283 589.5h3M1289 589.5h3M1295 590.5h3M1301 591.5h3M1307 592.5h2M1309 593.5h1M1312 594.5h3M1318 595.5h1M1319 596.5h2M1324 598.5h2M1326 599.5h1M1330 601.5h2M1332 602.5h1M1336 603.5h2M1338 604.5h1M1342 605.5h3M1348 606.5h2M1350 607.5h1M1354 607.5h3M1360 607.5h2M1362 608.5h1M1366 607.5h3M1372 607.5h1M1373 606.5h2M1378 605.5h3M1384 603.5h3" fill="none" stroke="#ff0000" stroke-width="1" shape-rendering="crispEdges"/>
<line x1="1332" y1="621.5" x2="1383" y2="592.6" stroke="#ff0000" stroke-width="3" stroke-linecap="round" shape-rendering="crispEdges"/>
<polygon points="1389.5,588.5 1378,588 1383,598.5" fill="#ff0000"/>
<g shape-rendering="crispEdges">
<line x1="0" y1="785.5" x2="1645" y2="785.5" stroke="#c0c0c0" stroke-width="1" stroke-dasharray="3 3" stroke-dashoffset="1"/>
<line x1="0" y1="836.5" x2="1645" y2="836.5" stroke="#c0c0c0" stroke-width="1" stroke-dasharray="3 3" stroke-dashoffset="1"/>
<line x1="0" y1="897.5" x2="1645" y2="897.5" stroke="#c0c0c0" stroke-width="1" stroke-dasharray="3 3" stroke-dashoffset="1"/>
</g>
<path d="M0 861.5h2M2.5 860v2M3.5 858v2M4.5 856v2M5.5 854v2M6.5 851v3M7.5 849v2M8.5 847v2M9.5 845v2M10 844.5h1M11 843.5h1M12 842.5h2M14.5 840v2M15 840.5h1M16 839.5h2M18 838.5h4M22 839.5h4M26 840.5h2M28 841.5h1M29 842.5h1M30.5 843v2M31 845.5h1M32 846.5h1M33 847.5h1M34 848.5h9M43.5 846v2M44.5 844v2M45.5 842v2M46 841.5h1M47.5 840v2M48.5 838v2M49.5 836v2M50 835.5h1M51 834.5h1M52.5 832v2M53 831.5h1M54 830.5h2M56.5 828v2M57 827.5h1M58 826.5h8M66.5 826v2M67.5 828v3M68.5 831v3M69.5 834v3M70.5 836v2M71.5 838v3M72.5 841v3M73.5 844v3M74.5 847v2M75 848.5h3M78.5 848v2M79 849.5h7M86.5 848v2M87 848.5h4M91 849.5h2M93 850.5h1M94 851.5h1M95 852.5h1M96 853.5h2M98 854.5h2M100 853.5h2M102 852.5h2M104 851.5h4M108 852.5h2M110 853.5h1M111 854.5h2M113 855.5h2M115.5 853v2M116.5 851v2M117.5 849v2M118 848.5h1M119.5 846v2M120.5 844v2M121.5 842v2M122.5 840v2M123 840.5h1M124 841.5h2M126.5 841v2M127 842.5h2M129 843.5h10M139 844.5h1M140 845.5h1M141 846.5h1M142.5 847v2M143 849.5h1M144 850.5h1M145 851.5h1M146 852.5h5M151 853.5h4M155.5 854v2M156 856.5h1M157.5 857v2M158 859.5h1M159.5 859v2M160 861.5h1M161.5 862v2M162 864.5h2M164 863.5h2M166 862.5h1M167 861.5h2M169 860.5h2M171 861.5h2M173 862.5h1M174.5 863v2M175 864.5h1M176 865.5h1M177 866.5h1M178 867.5h3M181 868.5h3M184 869.5h4M188 868.5h2M190 867.5h1M191 866.5h2M193 865.5h2M195 864.5h9M204 865.5h4M208 866.5h3M211 865.5h2M213 864.5h1M214 863.5h1M215 862.5h1M216 861.5h2M218 860.5h1M219.5 858v2M220 857.5h1M221 856.5h1M222 855.5h1M223 854.5h1M224 853.5h1M225.5 851v2M226 850.5h1M227 849.5h1M228 848.5h1M229 847.5h1M230.5 846v2M231 845.5h1M232 844.5h1M233 843.5h1M234 842.5h1M235.5 843v2M236 845.5h1M237.5 846v2M238 848.5h1M239.5 849v2M240 851.5h1M241.5 852v2M242 854.5h1M243 855.5h2M245 856.5h1M246 857.5h1M247 858.5h1M248 859.5h2M250 860.5h1M251 859.5h2M253 858.5h1M254 857.5h1M255 856.5h1M256 855.5h2M258.5 854v2M259.5 856v2M260.5 858v2M261.5 860v2M262.5 862v2M263.5 864v2M264.5 866v2M265.5 868v2M266.5 870v2M267 870.5h1M268 869.5h2M270.5 867v2M271 866.5h2M273 865.5h1M274 864.5h4M278 865.5h6M284 864.5h2M286.5 863v2M287 863.5h2M289 862.5h1M290.5 861v2M291.5 859v2M292.5 857v2M293.5 854v3M294.5 853v2M295.5 850v3M296.5 848v2M297.5 846v2M298.5 844v2M299 845.5h2M301 846.5h1M302.5 846v2M303 847.5h1M304 848.5h2M306 849.5h1M307.5 850v2M308.5 852v2M309.5 854v2M310.5 856v2M311.5 857v2M312.5 859v2M313.5 861v2M314.5 863v2M315 864.5h1M316 865.5h4M320 866.5h4M324 867.5h2M326.5 867v2M327 868.5h2M329 869.5h2M331 870.5h1M332.5 871v2M333 873.5h1M334 874.5h1M335 875.5h1M336.5 876v2M337 878.5h1M338 879.5h1M339 878.5h2M341 877.5h1M342.5 876v2M343 876.5h2M345 875.5h3M348 876.5h2M350.5 876v2M351 877.5h1M352 878.5h2M354.5 878v2M355.5 876v2M356.5 874v2M357.5 872v2M358.5 870v2M359.5 868v2M360.5 866v2M361.5 864v2M362.5 862v2M363.5 860v2M364 859.5h1M365 858.5h1M366.5 857v2M367 856.5h1M368 855.5h1M369.5 853v2M370 852.5h4M374.5 852v2M375 853.5h4M379 852.5h2M381 851.5h1M382.5 850v2M383 850.5h1M384 849.5h2M386 848.5h5M391 847.5h5M396 848.5h2M398.5 848v2M399 849.5h2M401 850.5h2M403.5 851v2M404 853.5h1M405 854.5h1M406.5 855v2M407 857.5h1M408 858.5h1M409.5 859v2M410 861.5h4M414 862.5h4M418 863.5h3M421 864.5h3M424 865.5h3M427 864.5h1M428 863.5h1M429 862.5h1M430.5 860v2M431 859.5h1M432 858.5h2M434 857.5h1M435 856.5h5M440 855.5h3M443 854.5h2M445 853.5h1M446 852.5h1M447 851.5h1M448 850.5h2M450 849.5h1M451 848.5h1M452 847.5h1M453 846.5h1M454 845.5h1M455 844.5h1M456 843.5h1M457 842.5h1M458 841.5h1M459.5 842v2M460 844.5h1M461 845.5h1M462.5 846v2M463 848.5h1M464 849.5h1M465 850.5h1M466 851.5h1M467 852.5h2M469 853.5h1M470.5 853v2M471 854.5h1M472 855.5h2M474 856.5h1M475 855.5h2M477 854.5h2M479 853.5h2M481 852.5h2M483.5 850v2M484.5 848v2M485.5 846v2M486.5 844v2M487.5 842v2M488.5 840v2M489.5 838v2M490.5 836v2M491 835.5h1M492 834.5h2M494.5 832v2M495 831.5h1M496 830.5h1M497 829.5h1M498 828.5h1M499 827.5h1M500 826.5h1M501 825.5h1M502.5 823v2M503 823.5h1M504 822.5h1M505 821.5h1M506 820.5h2M508 819.5h2M510.5 818v2M511 818.5h1M512 817.5h4M516 818.5h2M518 819.5h1M519 820.5h3M522 821.5h4M526 820.5h5M531.5 821v2M532.5 823v2M533 825.5h1M534 826.5h1M535.5 827v2M536.5 829v2M537.5 831v2M538 833.5h1M539.5 834v2M540.5 836v2M541.5 838v2M542.5 840v2M543.5 842v2M544.5 844v2M545.5 846v2M546 848.5h1M547 847.5h2M549 846.5h2M551 845.5h2M553 844.5h11M564 843.5h2M566 842.5h1M567 841.5h2M569 840.5h2M571 839.5h1M572 838.5h1M573 837.5h1M574.5 835v2M575 834.5h2M577 833.5h1M578 832.5h1M579 833.5h1M580 834.5h2M582.5 835v2M583 837.5h1M584 838.5h1M585 839.5h1M586 840.5h2M588 841.5h2M590 842.5h1M591 843.5h2M593 844.5h2M595.5 842v2M596 841.5h1M597.5 839v2M598.5 837v2M599.5 835v2M600.5 833v2M601.5 831v2M602.5 829v2M603 829.5h1M604 828.5h2M606.5 827v2M607 827.5h2M609 826.5h2M611 827.5h2M613 828.5h1M614.5 828v2M615 830.5h2M617 831.5h1M618 832.5h1M619 831.5h1M620 830.5h1M621 829.5h1M622.5 827v2M623 826.5h2M625 825.5h1M626 824.5h1M627.5 825v2M628 827.5h1M629 828.5h1M630 829.5h1M631.5 830v2M632 832.5h1M633.5 833v2M634 835.5h1M635 836.5h1M636.5 837v2M637 839.5h2M639 840.5h1M640.5 841v2M641 843.5h1M642 844.5h1M643 845.5h1M644 846.5h1M645 847.5h1M646.5 847v2M647 849.5h1M648 850.5h1M649 851.5h1M650 852.5h1M651 851.5h5M656 850.5h5M661 849.5h3M664 848.5h4M668 847.5h2M670.5 846v2M671 846.5h2M673 845.5h10M683 846.5h1M684 847.5h1M685 848.5h1M686 849.5h1M687 850.5h1M688 851.5h1M689 852.5h1M690 853.5h1M691.5 854v2M692.5 856v2M693.5 858v2M694.5 860v2M695.5 862v2M696.5 864v2M697.5 866v2M698 868.5h2M700 869.5h2M702 870.5h1M703 871.5h2M705 872.5h3M708 871.5h2M710.5 870v2M711 870.5h2M713 869.5h2M715.5 867v2M716.5 865v2M717.5 863v2M718 862.5h1M719.5 860v2M720.5 858v2M721.5 856v2M722.5 854v2M723 854.5h1M724 853.5h2M726.5 852v2M727 852.5h2M729 851.5h2M731 852.5h2M733 853.5h1M734.5 853v2M735 855.5h2M737 856.5h1M738.5 855v2M739 854.5h1M740.5 852v2M741.5 850v2M742.5 848v2M743.5 846v2M744.5 844v2M745.5 842v2M746.5 840v2M747 840.5h3M750.5 840v2M751 841.5h6M757 840.5h3M760 839.5h4M764 840.5h1M765 841.5h1M766.5 841v2M767 842.5h1M768 843.5h2M770 844.5h1M771 845.5h2M773 846.5h1M774.5 846v2M775 848.5h2M777 849.5h1M778.5 849v2M779.5 846v3M780.5 843v3M781.5 840v3M782.5 837v3M783.5 834v3M784.5 831v3M785.5 828v3M786.5 826v2M787 825.5h3M790 824.5h1M791 823.5h2M793 822.5h4M797 823.5h4M801 824.5h3M804 823.5h2M806.5 822v2M807 822.5h2M809 821.5h2M811 822.5h2M813 823.5h1M814 824.5h1M815 825.5h1M816 826.5h2M818 827.5h4M822 826.5h5M827 825.5h1M828.5 823v2M829 822.5h1M830 821.5h1M831 820.5h1M832.5 819v2M833 818.5h1M834 817.5h3M837 818.5h1M838.5 818v2M839 819.5h2M841 820.5h3M844 819.5h4M848 818.5h11M859.5 819v2M860.5 821v2M861 822.5h1M862.5 823v2M863 825.5h1M864.5 826v2M865.5 828v2M866 830.5h9M875 829.5h2M877 828.5h1M878.5 827v2M879 827.5h1M880 826.5h3M883 825.5h1M884 824.5h1M885 823.5h1M886.5 821v2M887 820.5h2M889 819.5h1M890 818.5h2M892 819.5h1M893 820.5h1M894.5 820v2M895 821.5h1M896 822.5h2M898 823.5h9M907.5 824v2M908.5 826v2M909 828.5h1M910.5 828v2M911 830.5h1M912.5 831v2M913.5 833v2M914 835.5h1M915.5 836v2M916.5 838v2M917.5 840v2M918.5 842v2M919.5 844v2M920.5 846v2M921.5 848v2M922.5 850v2M923 850.5h1M924 849.5h2M926.5 847v2M927 847.5h1M928 846.5h2M930 845.5h1M931 844.5h2M933 843.5h1M934 842.5h1M935 841.5h1M936 840.5h2M938 839.5h1M939 838.5h1M940.5 836v2M941 835.5h1M942 834.5h2M944.5 832v2M945 831.5h1M946 830.5h2M948 829.5h2M950.5 828v2M951 828.5h2M953 827.5h5M958 826.5h5M963 825.5h3M966 824.5h1M967 823.5h2M969 822.5h2M971 821.5h2M973 820.5h1M974.5 819v2M975 819.5h1M976 818.5h3M979 817.5h1M980 816.5h1M981 815.5h1M982.5 814v2M983 813.5h1M984 812.5h2M986 811.5h2M988 812.5h2M990.5 813v2M991 814.5h1M992 815.5h2M994 816.5h3M997 815.5h6M1003 816.5h2M1005 817.5h1M1006.5 818v2M1007 820.5h2M1009 821.5h1M1010 822.5h1M1011 823.5h2M1013 824.5h1M1014.5 825v2M1015 827.5h2M1017 828.5h1M1018 829.5h1M1019 828.5h2M1021 827.5h1M1022.5 826v2M1023 826.5h1M1024 825.5h1M1025 824.5h3M1028 823.5h3M1031 822.5h4M1035 821.5h4M1039 820.5h4M1043.5 821v2M1044.5 823v2M1045 825.5h1M1046.5 825v2M1047 827.5h1M1048.5 828v2M1049.5 830v2M1050 832.5h1M1051.5 830v2M1052 829.5h1M1053 828.5h1M1054.5 826v2M1055 825.5h1M1056 824.5h1M1057.5 822v2M1058 822.5h1M1059.5 820v2M1060 819.5h1M1061 818.5h1M1062.5 816v2M1063 815.5h1M1064 814.5h1M1065.5 812v2M1066 811.5h9M1075 810.5h1M1076 809.5h1M1077 808.5h1M1078.5 806v2M1079 805.5h2M1081 804.5h1M1082 803.5h1M1083.5 804v2M1084.5 806v2M1085.5 807v2M1086.5 809v2M1087.5 811v2M1088.5 813v2M1089.5 815v2M1090.5 817v2M1091 818.5h1M1092 817.5h3M1095 816.5h4M1099 817.5h2M1101 818.5h1M1102.5 819v2M1103 821.5h2M1105 822.5h1M1106 823.5h1M1107 822.5h1M1108 821.5h2M1110.5 819v2M1111 818.5h1M1112 817.5h2M1114 816.5h1M1115.5 814v2M1116 813.5h1M1117 812.5h1M1118.5 810v2M1119 809.5h2M1121.5 807v2M1122 806.5h1M1123.5 807v2M1124 809.5h1M1125 810.5h1M1126.5 811v2M1127 813.5h1M1128 814.5h1M1129.5 815v2M1130 817.5h2M1132 818.5h1M1133 819.5h1M1134.5 819v2M1135 821.5h2M1137 822.5h1M1138 823.5h1M1139.5 824v2M1140 826.5h1M1141 827.5h1M1142.5 827v2M1143 829.5h1M1144 830.5h1M1145.5 831v2M1146 833.5h2M1148 832.5h4M1152 831.5h3M1155 830.5h2M1157 829.5h1M1158.5 828v2M1159 828.5h1M1160 827.5h1M1161 826.5h3M1164 825.5h2M1166.5 824v2M1167 824.5h2M1169 823.5h2M1171 822.5h2M1173 821.5h1M1174 820.5h1M1175 819.5h1M1176 818.5h1M1177 817.5h2M1179 816.5h3M1182 815.5h2M1184 814.5h5M1189 813.5h7M1196 812.5h3M1199 811.5h4M1203 810.5h2M1205 809.5h2M1207 808.5h2M1209 807.5h2M1211 806.5h2M1213 805.5h2M1215 804.5h2M1217 803.5h3M1220 802.5h3M1223 801.5h6M1229 802.5h2M1231 803.5h3M1234 804.5h4M1238.5 804v2M1239 805.5h7M1246.5 804v2M1247 804.5h4M1251 803.5h3M1254 802.5h2M1256 801.5h4M1260 802.5h2M1262.5 802v2M1263 803.5h1M1264 804.5h3M1267 805.5h2M1269 806.5h1M1270.5 806v2M1271 807.5h1M1272 808.5h2M1274 809.5h1M1275 808.5h3M1278 807.5h2M1280 806.5h4M1284 805.5h3M1287 804.5h3M1290.5 804v2M1291.5 806v2M1292.5 808v3M1293.5 810v2M1294.5 812v3M1295.5 815v2M1296.5 817v3M1297.5 820v2M1298.5 822v2M1299 823.5h3M1302 822.5h5M1307.5 823v2M1308.5 825v2M1309.5 827v2M1310.5 828v2M1311.5 830v2M1312.5 832v2M1313.5 834v2M1314.5 836v2M1315.5 834v2M1316.5 832v2M1317.5 829v3M1318.5 827v2M1319.5 825v2M1320.5 823v2M1321.5 821v2M1322.5 819v2M1323 819.5h2M1325 820.5h3M1328 821.5h11M1339.5 819v2M1340.5 817v2M1341.5 815v2M1342 814.5h1M1343.5 812v2M1344.5 810v2M1345.5 808v2M1346 808.5h1M1347 807.5h1M1348 806.5h2M1350.5 804v2M1351 804.5h1M1352 803.5h1M1353 802.5h2M1355 801.5h3M1358 800.5h2M1360 799.5h3M1363 798.5h2M1365 797.5h1M1366.5 796v2M1367 796.5h2M1369 795.5h3M1372 796.5h2M1374 797.5h1M1375 798.5h2M1377 799.5h2M1379 800.5h2M1381 801.5h2M1383 802.5h2M1385 803.5h2" fill="none" stroke="#1e90ff" stroke-width="1" shape-rendering="crispEdges"/>
<line x1="1329.5" y1="812.2" x2="1402" y2="790.5" stroke="#ff0000" stroke-width="3.4" stroke-linecap="round" shape-rendering="crispEdges"/>
<polygon points="1410.5,788 1397,786.5 1401,796.5" fill="#ff0000"/>
<text transform="translate(138,590) scale(0.903,1)" font-size="10.3" fill="#000" text-anchor="end" >MACD(12,26,9) 0.002594 0.002021</text>
<text transform="translate(58,762.2) scale(0.903,1)" font-size="10.3" fill="#000" text-anchor="end" >RSI(14) 68.8871</text>
<text x="2" y="33.9" font-size="10.3" fill="#000" textLength="205" lengthAdjust="spacingAndGlyphs" >AUDUSD-,H4&#160;&#160;0.74750 0.74757 0.74695 0.74697</text>
<rect x="1646" y="19" width="46" height="922" fill="#fff"/>
<rect x="1690" y="19" width="2" height="922" fill="#f0f0f0"/>
<g shape-rendering="crispEdges">
<rect x="1646" y="44" width="2" height="1" fill="#000"/>
<rect x="1646" y="77" width="2" height="1" fill="#000"/>
<rect x="1646" y="110" width="2" height="1" fill="#000"/>
<rect x="1646" y="144" width="2" height="1" fill="#000"/>
<rect x="1646" y="176" width="2" height="1" fill="#000"/>
<rect x="1646" y="209" width="2" height="1" fill="#000"/>
<rect x="1646" y="242" width="2" height="1" fill="#000"/>
<rect x="1646" y="275" width="2" height="1" fill="#000"/>
<rect x="1646" y="308" width="2" height="1" fill="#000"/>
<rect x="1646" y="341" width="2" height="1" fill="#000"/>
<rect x="1646" y="374" width="2" height="1" fill="#000"/>
<rect x="1646" y="407" width="2" height="1" fill="#000"/>
<rect x="1646" y="440" width="2" height="1" fill="#000"/>
<rect x="1646" y="473" width="2" height="1" fill="#000"/>
<rect x="1646" y="506" width="2" height="1" fill="#000"/>
<rect x="1646" y="539" width="2" height="1" fill="#000"/>
<rect x="1646" y="572" width="2" height="1" fill="#000"/>
</g>
<text x="1651" y="48.3" font-size="10.3" fill="#000" textLength="33" lengthAdjust="spacingAndGlyphs" >0.74885</text>
<text x="1651" y="81.5" font-size="10.3" fill="#000" textLength="33" lengthAdjust="spacingAndGlyphs" >0.74680</text>
<text x="1651" y="114.7" font-size="10.3" fill="#000" textLength="33" lengthAdjust="spacingAndGlyphs" >0.74475</text>
<text x="1651" y="147.9" font-size="10.3" fill="#000" textLength="33" lengthAdjust="spacingAndGlyphs" >0.74270</text>
<text x="1651" y="180.3" font-size="10.3" fill="#000" textLength="33" lengthAdjust="spacingAndGlyphs" >0.74070</text>
<text x="1651" y="213.5" font-size="10.3" fill="#000" textLength="33" lengthAdjust="spacingAndGlyphs" >0.73865</text>
<text x="1651" y="246.7" font-size="10.3" fill="#000" textLength="33" lengthAdjust="spacingAndGlyphs" >0.73660</text>
<text x="1651" y="279.1" font-size="10.3" fill="#000" textLength="33" lengthAdjust="spacingAndGlyphs" >0.73460</text>
<text x="1651" y="312.3" font-size="10.3" fill="#000" textLength="33" lengthAdjust="spacingAndGlyphs" >0.73255</text>
<text x="1651" y="345.5" font-size="10.3" fill="#000" textLength="33" lengthAdjust="spacingAndGlyphs" >0.73050</text>
<text x="1651" y="378.7" font-size="10.3" fill="#000" textLength="33" lengthAdjust="spacingAndGlyphs" >0.72845</text>
<text x="1651" y="411.1" font-size="10.3" fill="#000" textLength="33" lengthAdjust="spacingAndGlyphs" >0.72645</text>
<text x="1651" y="444.4" font-size="10.3" fill="#000" textLength="33" lengthAdjust="spacingAndGlyphs" >0.72440</text>
<text x="1651" y="477.6" font-size="10.3" fill="#000" textLength="33" lengthAdjust="spacingAndGlyphs" >0.72235</text>
<text x="1651" y="510.8" font-size="10.3" fill="#000" textLength="33" lengthAdjust="spacingAndGlyphs" >0.72030</text>
<text x="1651" y="543.2" font-size="10.3" fill="#000" textLength="33" lengthAdjust="spacingAndGlyphs" >0.71830</text>
<text x="1651" y="576.4" font-size="10.3" fill="#000" textLength="33" lengthAdjust="spacingAndGlyphs" >0.71625</text>
<rect x="1647" y="20" width="41" height="10" fill="#ff0000" shape-rendering="crispEdges"/>
<text x="1651" y="28.7" font-size="10.3" fill="#fff" textLength="33" lengthAdjust="spacingAndGlyphs" >0.74998</text>
<rect x="1640.5" y="23.5" width="4" height="4" fill="#fff" stroke="#ff0000" stroke-width="1" shape-rendering="crispEdges"/>
<rect x="1647" y="43" width="41" height="11" fill="#ff0000" shape-rendering="crispEdges"/>
<text x="1651" y="52.2" font-size="10.3" fill="#fff" textLength="33" lengthAdjust="spacingAndGlyphs" >0.74850</text>
<rect x="1640.5" y="47.5" width="4" height="4" fill="#fff" stroke="#ff0000" stroke-width="1" shape-rendering="crispEdges"/>
<rect x="1647" y="69" width="41" height="11" fill="#000000" shape-rendering="crispEdges"/>
<text x="1651" y="78.2" font-size="10.3" fill="#fff" textLength="33" lengthAdjust="spacingAndGlyphs" >0.74697</text>
<rect x="1647" y="84" width="41" height="11" fill="#ffa500" shape-rendering="crispEdges"/>
<text x="1651" y="93.2" font-size="10.3" fill="#fff" textLength="33" lengthAdjust="spacingAndGlyphs" >0.74597</text>
<rect x="1640.5" y="88.5" width="4" height="4" fill="#fff" stroke="#ffa500" stroke-width="1" shape-rendering="crispEdges"/>
<rect x="1647" y="107" width="41" height="11" fill="#0000ff" shape-rendering="crispEdges"/>
<text x="1651" y="116.2" font-size="10.3" fill="#fff" textLength="33" lengthAdjust="spacingAndGlyphs" >0.74456</text>
<rect x="1640.5" y="111.5" width="4" height="4" fill="#fff" stroke="#0000ff" stroke-width="1" shape-rendering="crispEdges"/>
<rect x="1647" y="129" width="41" height="11" fill="#0000ff" shape-rendering="crispEdges"/>
<text x="1651" y="138.2" font-size="10.3" fill="#fff" textLength="33" lengthAdjust="spacingAndGlyphs" >0.74320</text>
<rect x="1640.5" y="133.5" width="4" height="4" fill="#fff" stroke="#0000ff" stroke-width="1" shape-rendering="crispEdges"/>
<g shape-rendering="crispEdges">
<rect x="1646" y="579" width="2" height="1" fill="#000"/>
<rect x="1646" y="660" width="2" height="1" fill="#000"/>
<rect x="1646" y="745" width="2" height="1" fill="#000"/>
</g>
<text x="1649" y="588" font-size="10.3" fill="#000" textLength="33" lengthAdjust="spacingAndGlyphs" >0.00287</text>
<text x="1649" y="664" font-size="10.3" fill="#000" textLength="18.5" lengthAdjust="spacingAndGlyphs" >0.00</text>
<text x="1649" y="744.4" font-size="10.3" fill="#000" textLength="41" lengthAdjust="spacingAndGlyphs" >-0.003038</text>
<text x="1649" y="760.4" font-size="10.3" fill="#000" textLength="15" lengthAdjust="spacingAndGlyphs" >100</text>
<text x="1649" y="789.2" font-size="10.3" fill="#000" textLength="10" lengthAdjust="spacingAndGlyphs" >80</text>
<text x="1649" y="840.3" font-size="10.3" fill="#000" textLength="10" lengthAdjust="spacingAndGlyphs" >50</text>
<text x="1649" y="901" font-size="10.3" fill="#000" textLength="10" lengthAdjust="spacingAndGlyphs" >15</text>
<text transform="translate(1649,920.2) scale(0.903,1)" font-size="10.3" fill="#000" >0</text>
<g shape-rendering="crispEdges">
<rect x="50" y="924" width="1" height="3" fill="#000"/>
<rect x="114" y="924" width="1" height="3" fill="#000"/>
<rect x="178" y="924" width="1" height="3" fill="#000"/>
<rect x="242" y="924" width="1" height="3" fill="#000"/>
<rect x="306" y="924" width="1" height="3" fill="#000"/>
<rect x="370" y="924" width="1" height="3" fill="#000"/>
<rect x="434" y="924" width="1" height="3" fill="#000"/>
<rect x="498" y="924" width="1" height="3" fill="#000"/>
<rect x="562" y="924" width="1" height="3" fill="#000"/>
<rect x="626" y="924" width="1" height="3" fill="#000"/>
<rect x="690" y="924" width="1" height="3" fill="#000"/>
<rect x="754" y="924" width="1" height="3" fill="#000"/>
<rect x="818" y="924" width="1" height="3" fill="#000"/>
<rect x="882" y="924" width="1" height="3" fill="#000"/>
<rect x="946" y="924" width="1" height="3" fill="#000"/>
<rect x="1010" y="924" width="1" height="3" fill="#000"/>
<rect x="1074" y="924" width="1" height="3" fill="#000"/>
<rect x="1138" y="924" width="1" height="3" fill="#000"/>
<rect x="1202" y="924" width="1" height="3" fill="#000"/>
<rect x="1266" y="924" width="1" height="3" fill="#000"/>
<rect x="1330" y="924" width="1" height="3" fill="#000"/>
</g>
<text transform="translate(49,935.8) scale(0.903,1)" font-size="10.3" fill="#000" >10 Sep 00:00</text>
<text transform="translate(113,935.8) scale(0.903,1)" font-size="10.3" fill="#000" >13 Sep 08:00</text>
<text transform="translate(177,935.8) scale(0.903,1)" font-size="10.3" fill="#000" >14 Sep 16:00</text>
<text transform="translate(241,935.8) scale(0.903,1)" font-size="10.3" fill="#000" >16 Sep 00:00</text>
<text transform="translate(305,935.8) scale(0.903,1)" font-size="10.3" fill="#000" >17 Sep 08:00</text>
<text transform="translate(369,935.8) scale(0.903,1)" font-size="10.3" fill="#000" >20 Sep 16:00</text>
<text transform="translate(433,935.8) scale(0.903,1)" font-size="10.3" fill="#000" >22 Sep 00:00</text>
<text transform="translate(497,935.8) scale(0.903,1)" font-size="10.3" fill="#000" >23 Sep 08:00</text>
<text transform="translate(561,935.8) scale(0.903,1)" font-size="10.3" fill="#000" >24 Sep 16:00</text>
<text transform="translate(625,935.8) scale(0.903,1)" font-size="10.3" fill="#000" >28 Sep 00:00</text>
<text transform="translate(689,935.8) scale(0.903,1)" font-size="10.3" fill="#000" >29 Sep 08:00</text>
<text transform="translate(753,935.8) scale(0.903,1)" font-size="10.3" fill="#000" >30 Sep 16:00</text>
<text transform="translate(817,935.8) scale(0.903,1)" font-size="10.3" fill="#000" >4 Oct 00:00</text>
<text transform="translate(881,935.8) scale(0.903,1)" font-size="10.3" fill="#000" >5 Oct 08:00</text>
<text transform="translate(945,935.8) scale(0.903,1)" font-size="10.3" fill="#000" >6 Oct 16:00</text>
<text transform="translate(1009,935.8) scale(0.903,1)" font-size="10.3" fill="#000" >8 Oct 00:00</text>
<text transform="translate(1073,935.8) scale(0.903,1)" font-size="10.3" fill="#000" >11 Oct 08:00</text>
<text transform="translate(1137,935.8) scale(0.903,1)" font-size="10.3" fill="#000" >12 Oct 16:00</text>
<text transform="translate(1201,935.8) scale(0.903,1)" font-size="10.3" fill="#000" >14 Oct 00:00</text>
<text transform="translate(1265,935.8) scale(0.903,1)" font-size="10.3" fill="#000" >15 Oct 08:00</text>
<text transform="translate(1329,935.8) scale(0.903,1)" font-size="10.3" fill="#000" >18 Oct 16:00</text>
<text transform="translate(32,935.8) scale(0.903,1)" font-size="10.3" fill="#000" text-anchor="end" >8 Sep 2021</text>
<g id="toolbar">
<rect x="0" y="0" width="1692" height="18" fill="#f0f0f0"/>
<rect x="0" y="17" width="1692" height="1" fill="#f8f8f8"/>
<rect x="0" y="18" width="1692" height="1" fill="#a8a8a8"/>
<rect x="0" y="19" width="1692" height="1" fill="#6c6c6c"/>
<g fill="#a8a8a8" shape-rendering="crispEdges">
<rect x="6" y="0" width="1" height="15"/>
<rect x="243" y="0" width="1" height="17"/>
<rect x="280" y="0" width="1" height="15"/>
<rect x="337" y="0" width="1" height="15"/>
<rect x="427" y="0" width="1" height="15"/>
<rect x="432" y="0" width="1" height="15"/>
<rect x="460" y="0" width="1" height="15"/>
<rect x="489" y="0" width="1" height="15"/>
<rect x="610" y="0" width="1" height="17"/>
<rect x="677" y="0" width="1" height="15"/>
<rect x="916" y="0" width="1" height="17"/>
<rect x="1066" y="0" width="1" height="15"/>
<rect x="1177" y="0" width="1" height="17"/>
</g>
<g stroke="#b0b0b0" stroke-width="3" stroke-dasharray="1 1" shape-rendering="crispEdges">
<line x1="247.5" y1="0" x2="247.5" y2="15"/>
<line x1="615.5" y1="0" x2="615.5" y2="15"/>
<line x1="921.5" y1="0" x2="921.5" y2="15"/>
</g>
<!-- selected buttons -->
<rect x="282" y="0" width="23" height="15" fill="#f8f8f8"/>
<rect x="620" y="0" width="25" height="15" fill="#f8f8f8"/>
<rect x="433" y="0" width="26" height="15" fill="#f7f7f7"/>
<rect x="461" y="0" width="27" height="15" fill="#f7f7f7"/>
<rect x="1067" y="0" width="24" height="15" fill="#f8f8f8"/>

<!-- new order icon -->
<path d="M16.5 0V11.5H24" fill="none" stroke="#9a9a9a"/>
<rect x="17" y="0" width="10.5" height="11" fill="#fdfdfd"/>
<path d="M19 1.5h3M19 4.5h6M19 6.5h4" stroke="#8a8a8a" stroke-width="1"/>
<path d="M26 4.2v11.6M20.1 10h11.8" stroke="#1c8a1c" stroke-width="4.6"/>
<path d="M26 5.2v9.6M21.1 10h9.8" stroke="#38d838" stroke-width="2.6"/>
<text x="35" y="9.6" font-size="12.2" fill="#000" textLength="36.5" lengthAdjust="spacingAndGlyphs">新订单</text>
<!-- gold book icon -->
<path d="M83 7.7L89.9 -0.5L99.1 7.3L90.7 13.8Z" fill="#b87818"/>
<path d="M83.6 7.3L89.9 -0.5L98.6 6.4L91.2 11.9Z" fill="#e6b030"/>
<path d="M86 6.9L90.4 1.6L96.2 6.1L91.4 10Z" fill="#f4d468"/>
<path d="M91 12.8L98.6 7.2" stroke="#f0d890" stroke-width="0.9"/>
<!-- cloud icon -->
<rect x="113" y="0" width="11" height="8" fill="#5aa0e8" stroke="#2a6cc0"/>
<rect x="115" y="2" width="7" height="2" fill="#e6f2ff"/>
<path d="M112 13.5a3 3 0 0 1 1-5.6a4.2 4.2 0 0 1 8-0.6a3.2 3.2 0 0 1 4.5 3a2 2 0 0 1-0.5 3.2z" fill="#e4ecf6" stroke="#8aa2c4" stroke-width="1"/>
<!-- signal icon -->
<circle cx="147" cy="6" r="6.6" fill="none" stroke="#9ab4d8" stroke-width="1.3"/>
<circle cx="147" cy="6" r="4" fill="none" stroke="#6a92c8" stroke-width="1.3"/>
<circle cx="147" cy="6" r="1.7" fill="#2a5cb0"/>
<path d="M147 6v7.5a7 7 0 0 0 6.5-5" fill="none" stroke="#3fae3f" stroke-width="2.2"/>
<!-- autotrade icon -->
<ellipse cx="174.5" cy="2" rx="7" ry="3" fill="#58a8e0" stroke="#3a7cb8" stroke-width="0.8"/>
<path d="M167 3.5L172.5 13.5H177L182.5 3.5Q174.5 8 167 3.5Z" fill="#f0c020" stroke="#c89010" stroke-width="0.8"/>
<circle cx="178.6" cy="9.8" r="4.3" fill="#e02818"/>
<rect x="177" y="8.2" width="3.2" height="3.2" fill="#fff"/>
<text x="188" y="9.6" font-size="12.2" fill="#000" textLength="45.6" lengthAdjust="spacingAndGlyphs">自动交易</text>

<!-- chart type icons -->
<g fill="none" stroke="#505050" stroke-width="1">
<path d="M260.5 0V14M258 12H271.5M270.3 10.9l1.2 1.1l-1.2 1.1"/>
<path d="M288.5 0V14M285.5 12H299M297.8 10.9l1.2 1.1l-1.2 1.1"/>
<path d="M316.5 0V14M313.5 12H327M325.8 10.9l1.2 1.1l-1.2 1.1"/>
<path d="M440.5 0V14M438 12H452M450.8 10.9l1.2 1.1l-1.2 1.1"/>
<path d="M468.5 0V14M465.8 12H479.3M478.1 10.9l1.2 1.1l-1.2 1.1"/>
</g>
<path d="M264.5 9.3h2.2V1.8h2.3" fill="none" stroke="#2a9a2a" stroke-width="1.6"/>
<rect x="292.6" y="0.5" width="4.2" height="7.3" fill="#35c435" stroke="#1a7a1a" stroke-width="0.8"/>
<path d="M294.7 7.8v2" stroke="#1a7a1a"/>
<path d="M315.8 9Q320.5 -1.5 326.5 7" fill="none" stroke="#2a9a2a" stroke-width="1.3"/>
<path d="M445.5 3v5.8l3.8-2.9z" fill="#bff0bf" stroke="#2aa02a" stroke-width="1"/>
<path d="M474.5 0v10" stroke="#2a60b0" stroke-width="1.2"/>
<path d="M480 5.5h-4.5M477.6 3.5l-2.2 2l2.2 2" fill="none" stroke="#d04010" stroke-width="1.1"/>

<!-- zoom in / out -->
<path d="M356 8.5L361.3 13.2" stroke="#c8a020" stroke-width="2.6" stroke-linecap="round"/>
<circle cx="352" cy="4" r="5.2" fill="#d8ecff" stroke="#5a96d8" stroke-width="1.3"/>
<path d="M349 4.2h6M352 1.2v6" stroke="#2a60b8" stroke-width="1.5"/>
<path d="M384.3 8.2L389.5 12.8" stroke="#c8a020" stroke-width="2.6" stroke-linecap="round"/>
<circle cx="380.3" cy="3.6" r="5.2" fill="#d8ecff" stroke="#5a96d8" stroke-width="1.3"/>
<path d="M377.3 3.8h6" stroke="#2a60b8" stroke-width="1.5"/>
<!-- grid icon -->
<rect x="402" y="0" width="7.5" height="6" fill="#4aa82a"/>
<rect x="410.5" y="0" width="7.5" height="6" fill="#2a62d0"/>
<rect x="402" y="7" width="7.5" height="6.5" fill="#2a62d0"/>
<rect x="410.5" y="7" width="7.5" height="6.5" fill="#4aa82a"/>
<g fill="#eef4ff"><rect x="403.5" y="2.2" width="4.5" height="2"/><rect x="412" y="2.2" width="4.5" height="2"/><rect x="403.5" y="9.8" width="4.5" height="2"/><rect x="412" y="9.8" width="4.5" height="2"/></g>

<!-- template icons -->
<path d="M499.5 0V10.5H508" fill="none" stroke="#8a8a8a"/>
<rect x="500" y="0" width="9" height="10" fill="#fbfbfb"/>
<path d="M502 3h3M502 5h3" stroke="#9aa" stroke-width="0.8"/>
<path d="M509.5 4.5v10.5M504.2 9.8h10.6" stroke="#1c8a1c" stroke-width="4.2"/>
<path d="M509.5 5.5v8.5M505.2 9.8h8.6" stroke="#35d135" stroke-width="2.2"/>
<path d="M521.2 5.2h5l-2.5 3z" fill="#000"/>
<circle cx="545" cy="5.5" r="7.2" fill="#2a6cd0" stroke="#1a4aa0" stroke-width="0.8"/>
<circle cx="545" cy="5.5" r="5" fill="#f4f8ff"/>
<path d="M545 2v3.8h2.8" fill="none" stroke="#555" stroke-width="1"/>
<path d="M560.3 5.2h5l-2.5 3z" fill="#000"/>
<rect x="576.5" y="0" width="15" height="12.5" fill="#fafcff" stroke="#3a78d0" stroke-width="1.2"/>
<path d="M576.5 6.5h15" stroke="#3a78d0" stroke-width="0.8"/>
<path d="M578.5 4.8l3-1l3 0.6l2.5-1.6l2.5 0.4" fill="none" stroke="#b03020" stroke-width="1.1"/>
<path d="M578.5 10.8l3-1.4l2.6 1l2.6-2l2.8 1.6" fill="none" stroke="#2a9a2a" stroke-width="1.1"/>
<path d="M599 5.2h5l-2.5 3z" fill="#000"/>

<!-- cursor, crosshair, lines -->
<path d="M628.2 0V11L630.8 8.6L632.8 12.8L634.6 12L632.7 7.9L636 7.6Z" fill="#505050"/>
<path d="M660.5 0V14M653 6.5H668" stroke="#484848" stroke-width="1.1" fill="none"/>
<rect x="659" y="5.2" width="3" height="2.6" fill="#f0f0f0"/>
<path d="M694.5 0V12.5" stroke="#484848" stroke-width="1.1"/>
<path d="M717 6.5H729" stroke="#484848" stroke-width="1.1"/>
<path d="M745 13L757 1.2" stroke="#484848" stroke-width="1.1"/>
<g stroke="#505050" stroke-width="1.1" fill="none">
<path d="M771 11.5L781.5 0.5M774 13L784.5 2M772.5 9.5h8M774.5 7h8M776.5 4.5h8M778.5 2h6M775 12l8-10"/>
</g>
<text x="782" y="14.8" font-size="6.5" font-weight="bold" fill="#333">E</text>
<g stroke="#606060" stroke-width="1" stroke-dasharray="1 1">
<path d="M800 2.5h13M800 6.5h13M800 10.5h10"/>
</g>
<text x="810" y="14.8" font-size="6.5" font-weight="bold" fill="#333">F</text>
<text x="830.5" y="11" font-size="12.5" font-weight="bold" fill="#555" textLength="8.6" lengthAdjust="spacingAndGlyphs">A</text>
<rect x="857.5" y="0" width="11" height="12.5" fill="none" stroke="#606060" stroke-width="1" stroke-dasharray="1 1"/>
<text x="859.2" y="10.8" font-size="11.5" fill="#505050" textLength="7.6" lengthAdjust="spacingAndGlyphs">T</text>
<path d="M886.5 0.5l2.6 2.6l-2.6 2.6l-2.6-2.6z" fill="#444"/>
<path d="M895 7l2.8 2.8l-2.8 2.8l-2.8-2.8z" fill="#444"/>
<path d="M885.5 6.5l2.5 2.5l4.5-5" fill="none" stroke="#444" stroke-width="1.3"/>
<path d="M905 5.2h5l-2.5 3z" fill="#000"/>

<!-- timeframes -->
<g font-size="10.2" fill="#404040">
<text x="931.6" y="10.6" textLength="12.8" lengthAdjust="spacingAndGlyphs">M1</text>
<text x="959.3" y="10.6" textLength="13" lengthAdjust="spacingAndGlyphs">M5</text>
<text x="985.3" y="10.6" textLength="18.2" lengthAdjust="spacingAndGlyphs">M15</text>
<text x="1013.7" y="10.6" textLength="17.7" lengthAdjust="spacingAndGlyphs">M30</text>
<text x="1044.4" y="10.6" textLength="12.3" lengthAdjust="spacingAndGlyphs">H1</text>
<text x="1071.6" y="10.6" textLength="12.5" lengthAdjust="spacingAndGlyphs">H4</text>
<text x="1100.4" y="10.6" textLength="12.1" lengthAdjust="spacingAndGlyphs">D1</text>
<text x="1127.9" y="10.6" textLength="14.6" lengthAdjust="spacingAndGlyphs">W1</text>
<text x="1154.3" y="10.6" textLength="15.4" lengthAdjust="spacingAndGlyphs">MN</text>
</g>

<!-- right icons -->
<path d="M1645 6.5L1640.3 11.3" stroke="#3a6cc8" stroke-width="2" stroke-linecap="round"/>
<circle cx="1647.8" cy="3.6" r="3.6" fill="#f4f8ff" stroke="#3a6cc8" stroke-width="1.4"/>
<path d="M1664.6 8a6 4.6 0 0 1 12 0a6 4.6 0 0 1-6.5 4.5l-2.6 2l0.3-2.6a6 4.6 0 0 1-3.2-3.9z" fill="#e6e8f0" stroke="#c4c8d4" stroke-width="0.8"/>
<circle cx="1678.5" cy="3.5" r="8.2" fill="#d42c1a"/>
<text x="1678.6" y="7.8" font-size="12" fill="#fff" text-anchor="middle" font-weight="bold" textLength="5" lengthAdjust="spacingAndGlyphs">1</text>
</g>

<defs>
<linearGradient id="gb" x1="0" y1="0" x2="0" y2="1"><stop offset="0" stop-color="#4c4cf2"/><stop offset="1" stop-color="#3232d6"/></linearGradient>
<linearGradient id="gp" x1="0" y1="0" x2="0" y2="1"><stop offset="0" stop-color="#3a3ae2"/><stop offset="0.5" stop-color="#1c1cc8"/><stop offset="1" stop-color="#0000a8"/></linearGradient>
<linearGradient id="gs" x1="0" y1="0" x2="0" y2="1"><stop offset="0" stop-color="#f0f0f0"/><stop offset="1" stop-color="#c8c8c8"/></linearGradient>
</defs>
<g id="panel">
<rect x="0" y="42" width="210" height="57" fill="#fff"/>
<rect x="0" y="42" width="41" height="25" fill="url(#gb)"/>
<rect x="156" y="42" width="52" height="25" fill="url(#gb)"/>
<rect x="0" y="66.5" width="98" height="32.2" fill="url(#gp)"/>
<rect x="100" y="66.5" width="108" height="32.2" fill="url(#gp)"/>
<rect x="0" y="66" width="37" height="1" fill="#7a7aee"/>
<rect x="160" y="66" width="44" height="1" fill="#7a7aee"/>
<rect x="43.5" y="42.5" width="110.5" height="21" fill="#fff" stroke="#a8a8a8" stroke-width="1"/>
<rect x="44.5" y="43.5" width="19" height="19" fill="url(#gs)" stroke="#d8d8d8" stroke-width="0.6"/>
<rect x="133.5" y="43.5" width="19.5" height="19" fill="url(#gs)" stroke="#d8d8d8" stroke-width="0.6"/>
<path d="M50.8 51h5.2l-2.6 3z" fill="#4a5ab0"/>
<rect x="63.5" y="43" width="1" height="20" fill="#c4c4c4"/>
<rect x="132.5" y="43" width="1" height="20" fill="#c4c4c4"/>
<path d="M139.8 53.6h5.2l-2.6-3z" fill="#4a5ab0"/>
<text x="129" y="56.8" font-size="11.9" fill="#000" text-anchor="end" textLength="24" lengthAdjust="spacingAndGlyphs">1.00</text>
<text x="1.5" y="58" font-size="12.6" fill="#fff" textLength="25.5" lengthAdjust="spacingAndGlyphs">SELL</text>
<text x="169.5" y="58" font-size="12.6" fill="#fff" textLength="22.5" lengthAdjust="spacingAndGlyphs">BUY</text>
<text x="9" y="94" font-size="11.6" font-weight="bold" fill="#fff" textLength="24" lengthAdjust="spacingAndGlyphs">0.74</text>
<text x="36.5" y="93.8" font-size="32.4" fill="#fff" textLength="35" lengthAdjust="spacingAndGlyphs">69</text>
<text x="75.5" y="78" font-size="12.4" fill="#fff" stroke="#fff" stroke-width="0.3" textLength="7" lengthAdjust="spacingAndGlyphs">7</text>
<text x="119" y="94" font-size="11.6" font-weight="bold" fill="#fff" textLength="24" lengthAdjust="spacingAndGlyphs">0.74</text>
<text x="147.5" y="93.8" font-size="32.4" fill="#fff" textLength="34.5" lengthAdjust="spacingAndGlyphs">77</text>
<text x="186.8" y="78" font-size="12.4" fill="#fff" stroke="#fff" stroke-width="0.3" textLength="7" lengthAdjust="spacingAndGlyphs">8</text>
</g>

</svg>
</body></html>
